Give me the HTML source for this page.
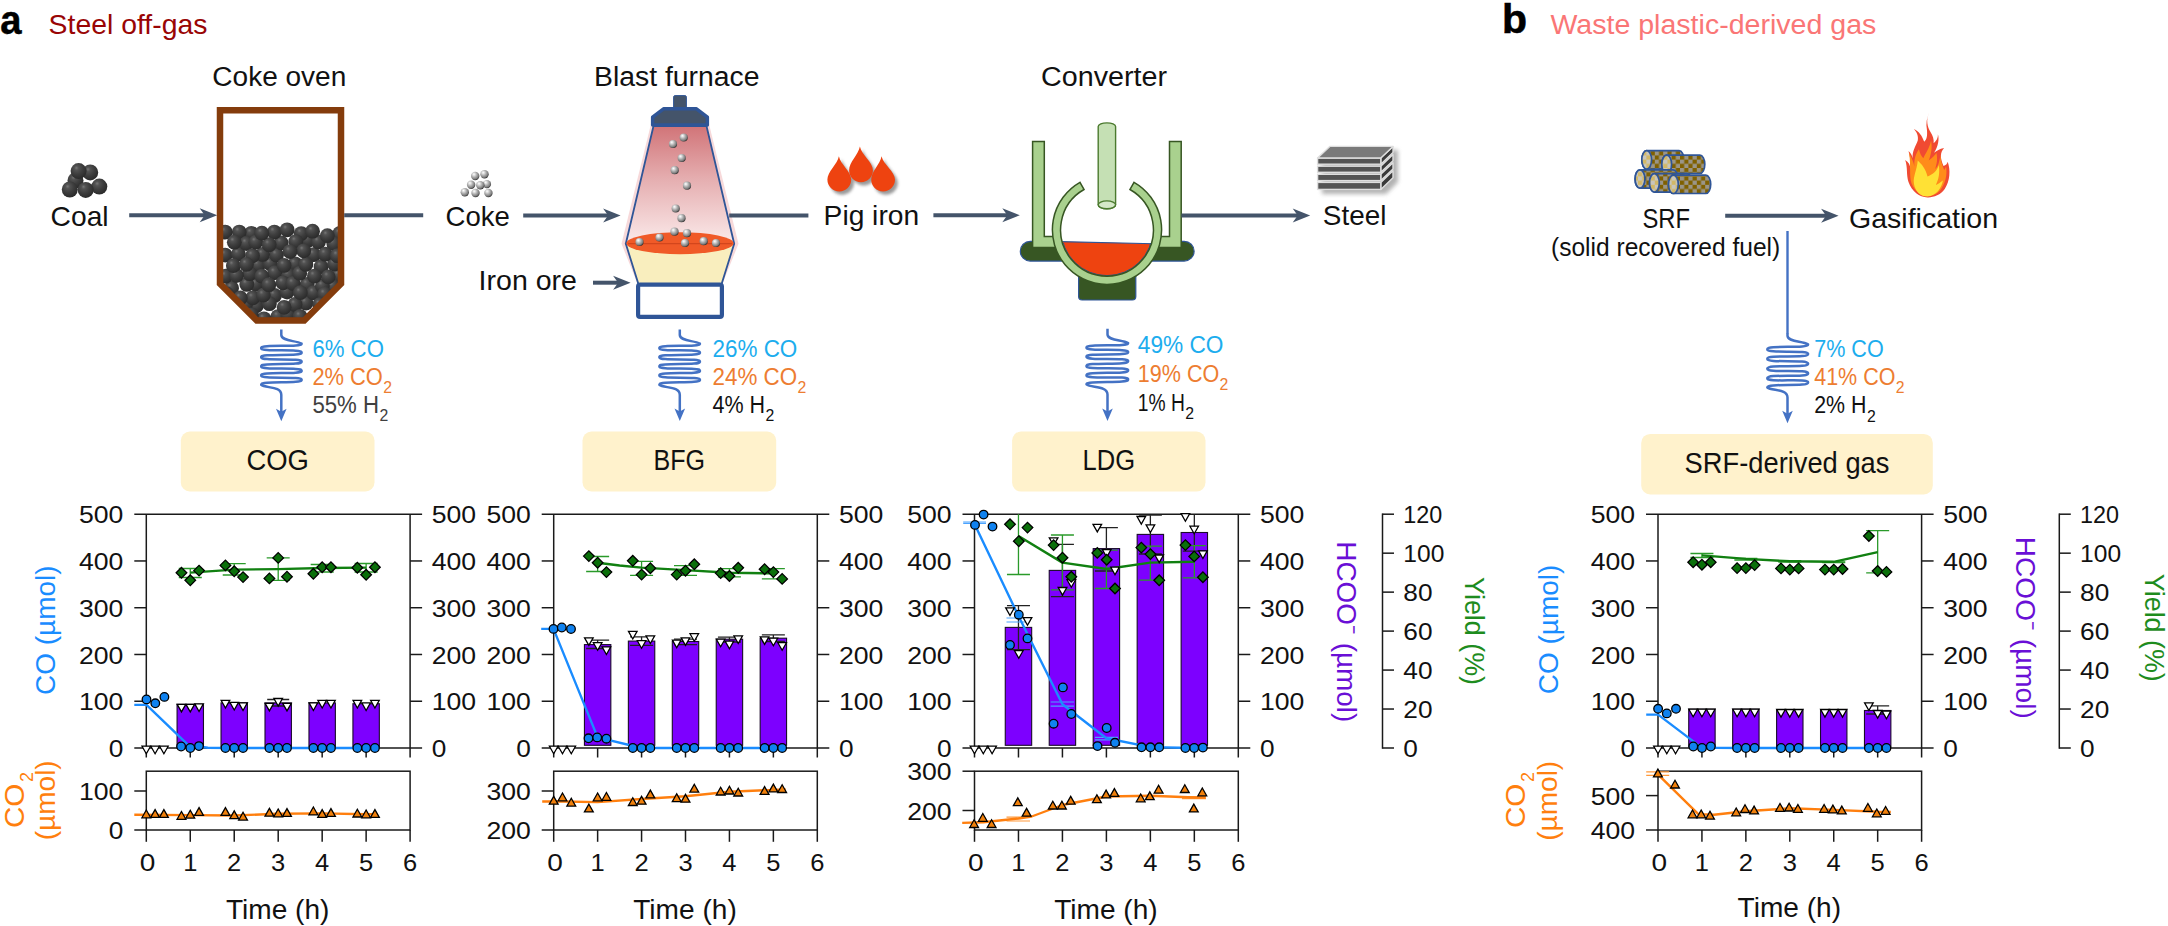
<!DOCTYPE html>
<html lang="en"><head><meta charset="utf-8"><title>Steel off-gas and waste plastic-derived gas</title>
<style>
html,body{margin:0;padding:0;background:#fff}
body{width:2168px;height:926px;overflow:hidden}
svg{display:block;font-family:'Liberation Sans', sans-serif}
</style></head><body>
<svg width="2168" height="926" viewBox="0 0 2168 926">
<defs>
<radialGradient id="gDark" cx="0.40" cy="0.36" r="0.62" fx="0.36" fy="0.30">
<stop offset="0" stop-color="#767676"/><stop offset="0.22" stop-color="#525252"/><stop offset="0.6" stop-color="#3d3d3d"/><stop offset="1" stop-color="#2c2c2c"/></radialGradient>
<radialGradient id="gLight" cx="0.40" cy="0.36" r="0.66" fx="0.34" fy="0.28">
<stop offset="0" stop-color="#ffffff"/><stop offset="0.2" stop-color="#e2e2e2"/><stop offset="0.5" stop-color="#adadad"/><stop offset="0.8" stop-color="#7c7c7c"/><stop offset="1" stop-color="#2e2e2e"/></radialGradient>
<linearGradient id="gFurn" x1="0" y1="0" x2="0" y2="1">
<stop offset="0" stop-color="#d17478"/><stop offset="0.45" stop-color="#e5aeb0"/><stop offset="1" stop-color="#fbeaea"/></linearGradient>
<filter id="fSh" x="-30%" y="-30%" width="170%" height="170%"><feGaussianBlur stdDeviation="1.6"/></filter>
<filter id="fSh2" x="-30%" y="-30%" width="170%" height="170%"><feGaussianBlur stdDeviation="2.2"/></filter>
<pattern id="pLog" width="8.4" height="8.4" patternUnits="userSpaceOnUse"><rect width="8.4" height="8.4" fill="#7f6000"/><rect width="4.2" height="4.2" fill="#9a9588"/><rect x="4.2" y="4.2" width="4.2" height="4.2" fill="#9a9588"/></pattern>
<pattern id="pLogE" width="8.4" height="8.4" patternUnits="userSpaceOnUse"><rect width="8.4" height="8.4" fill="#d2b866"/><rect width="4.2" height="4.2" fill="#c9c6bd"/><rect x="4.2" y="4.2" width="4.2" height="4.2" fill="#c9c6bd"/></pattern>
<clipPath id="cp1"><rect x="132.3" y="508.7" width="291.8" height="327.8"/></clipPath>
<clipPath id="cp2"><rect x="539.7" y="508.7" width="291.6" height="327.8"/></clipPath>
<clipPath id="cp3"><rect x="960.5" y="508.7" width="291.8" height="327.8"/></clipPath>
<clipPath id="cp4"><rect x="1644" y="508.7" width="291.6" height="327.8"/></clipPath>
<clipPath id="cpOven"><path d="M223 110H338V283.5L303.5 318H257.5L223 283.5Z"/></clipPath>
<clipPath id="cpMelt"><circle cx="1107" cy="229.8" r="46.2"/></clipPath>
<clipPath id="cpMeltB"><rect x="1050" y="243" width="115" height="50"/></clipPath>
</defs>
<rect width="2168" height="926" fill="#fff"/>
<rect x="177.07" y="704.3" width="26.4" height="42.7" fill="#7d00ff" stroke="#1a0a2a" stroke-width="1.1"/>
<rect x="221.03" y="702.9" width="26.4" height="44.1" fill="#7d00ff" stroke="#1a0a2a" stroke-width="1.1"/>
<rect x="265" y="702.9" width="26.4" height="44.1" fill="#7d00ff" stroke="#1a0a2a" stroke-width="1.1"/>
<rect x="308.97" y="702.9" width="26.4" height="44.1" fill="#7d00ff" stroke="#1a0a2a" stroke-width="1.1"/>
<rect x="352.93" y="703.7" width="26.4" height="43.3" fill="#7d00ff" stroke="#1a0a2a" stroke-width="1.1"/>
<line x1="134.3" y1="514.2" x2="422.1" y2="514.2" stroke="#1a1a1a" stroke-width="1.5"/>
<line x1="134.3" y1="748" x2="422.1" y2="748" stroke="#1a1a1a" stroke-width="1.5"/>
<line x1="146.3" y1="514.2" x2="146.3" y2="748" stroke="#1a1a1a" stroke-width="1.5"/>
<line x1="410.1" y1="514.2" x2="410.1" y2="757.5" stroke="#1a1a1a" stroke-width="1.5"/>
<line x1="134.3" y1="701.24" x2="146.3" y2="701.24" stroke="#1a1a1a" stroke-width="1.5"/>
<line x1="410.1" y1="701.24" x2="422.1" y2="701.24" stroke="#1a1a1a" stroke-width="1.5"/>
<line x1="134.3" y1="654.48" x2="146.3" y2="654.48" stroke="#1a1a1a" stroke-width="1.5"/>
<line x1="410.1" y1="654.48" x2="422.1" y2="654.48" stroke="#1a1a1a" stroke-width="1.5"/>
<line x1="134.3" y1="607.72" x2="146.3" y2="607.72" stroke="#1a1a1a" stroke-width="1.5"/>
<line x1="410.1" y1="607.72" x2="422.1" y2="607.72" stroke="#1a1a1a" stroke-width="1.5"/>
<line x1="134.3" y1="560.96" x2="146.3" y2="560.96" stroke="#1a1a1a" stroke-width="1.5"/>
<line x1="410.1" y1="560.96" x2="422.1" y2="560.96" stroke="#1a1a1a" stroke-width="1.5"/>
<line x1="146.3" y1="748" x2="146.3" y2="757.5" stroke="#1a1a1a" stroke-width="1.5"/>
<line x1="190.27" y1="748" x2="190.27" y2="757.5" stroke="#1a1a1a" stroke-width="1.5"/>
<line x1="234.23" y1="748" x2="234.23" y2="757.5" stroke="#1a1a1a" stroke-width="1.5"/>
<line x1="278.2" y1="748" x2="278.2" y2="757.5" stroke="#1a1a1a" stroke-width="1.5"/>
<line x1="322.17" y1="748" x2="322.17" y2="757.5" stroke="#1a1a1a" stroke-width="1.5"/>
<line x1="366.13" y1="748" x2="366.13" y2="757.5" stroke="#1a1a1a" stroke-width="1.5"/>
<text x="123.4" y="757.2" font-size="24" fill="#111" text-anchor="end" textLength="14.6" lengthAdjust="spacingAndGlyphs">0</text>
<text x="431.7" y="757.2" font-size="24" fill="#111" textLength="14.6" lengthAdjust="spacingAndGlyphs">0</text>
<text x="123.4" y="710.44" font-size="24" fill="#111" text-anchor="end" textLength="44.4" lengthAdjust="spacingAndGlyphs">100</text>
<text x="431.7" y="710.44" font-size="24" fill="#111" textLength="44.4" lengthAdjust="spacingAndGlyphs">100</text>
<text x="123.4" y="663.68" font-size="24" fill="#111" text-anchor="end" textLength="44.4" lengthAdjust="spacingAndGlyphs">200</text>
<text x="431.7" y="663.68" font-size="24" fill="#111" textLength="44.4" lengthAdjust="spacingAndGlyphs">200</text>
<text x="123.4" y="616.92" font-size="24" fill="#111" text-anchor="end" textLength="44.4" lengthAdjust="spacingAndGlyphs">300</text>
<text x="431.7" y="616.92" font-size="24" fill="#111" textLength="44.4" lengthAdjust="spacingAndGlyphs">300</text>
<text x="123.4" y="570.16" font-size="24" fill="#111" text-anchor="end" textLength="44.4" lengthAdjust="spacingAndGlyphs">400</text>
<text x="431.7" y="570.16" font-size="24" fill="#111" textLength="44.4" lengthAdjust="spacingAndGlyphs">400</text>
<text x="123.4" y="523.4" font-size="24" fill="#111" text-anchor="end" textLength="44.4" lengthAdjust="spacingAndGlyphs">500</text>
<text x="431.7" y="523.4" font-size="24" fill="#111" textLength="44.4" lengthAdjust="spacingAndGlyphs">500</text>
<rect x="146.3" y="771.2" width="263.8" height="58.8" fill="none" stroke="#1a1a1a" stroke-width="1.5"/>
<line x1="146.3" y1="830" x2="146.3" y2="841.8" stroke="#1a1a1a" stroke-width="1.5"/>
<text x="147.6" y="871.4" font-size="24" fill="#111" text-anchor="middle" textLength="15.6" lengthAdjust="spacingAndGlyphs">0</text>
<line x1="190.27" y1="830" x2="190.27" y2="841.8" stroke="#1a1a1a" stroke-width="1.5"/>
<text x="190.27" y="871.4" font-size="24" fill="#111" text-anchor="middle" textLength="14.2" lengthAdjust="spacingAndGlyphs">1</text>
<line x1="234.23" y1="830" x2="234.23" y2="841.8" stroke="#1a1a1a" stroke-width="1.5"/>
<text x="234.23" y="871.4" font-size="24" fill="#111" text-anchor="middle" textLength="14.2" lengthAdjust="spacingAndGlyphs">2</text>
<line x1="278.2" y1="830" x2="278.2" y2="841.8" stroke="#1a1a1a" stroke-width="1.5"/>
<text x="278.2" y="871.4" font-size="24" fill="#111" text-anchor="middle" textLength="14.2" lengthAdjust="spacingAndGlyphs">3</text>
<line x1="322.17" y1="830" x2="322.17" y2="841.8" stroke="#1a1a1a" stroke-width="1.5"/>
<text x="322.17" y="871.4" font-size="24" fill="#111" text-anchor="middle" textLength="14.2" lengthAdjust="spacingAndGlyphs">4</text>
<line x1="366.13" y1="830" x2="366.13" y2="841.8" stroke="#1a1a1a" stroke-width="1.5"/>
<text x="366.13" y="871.4" font-size="24" fill="#111" text-anchor="middle" textLength="14.2" lengthAdjust="spacingAndGlyphs">5</text>
<line x1="410.1" y1="830" x2="410.1" y2="841.8" stroke="#1a1a1a" stroke-width="1.5"/>
<text x="410.1" y="871.4" font-size="24" fill="#111" text-anchor="middle" textLength="14.2" lengthAdjust="spacingAndGlyphs">6</text>
<line x1="134.3" y1="791" x2="146.3" y2="791" stroke="#1a1a1a" stroke-width="1.5"/>
<text x="123.4" y="800.2" font-size="24" fill="#111" text-anchor="end" textLength="44.4" lengthAdjust="spacingAndGlyphs">100</text>
<line x1="134.3" y1="830" x2="146.3" y2="830" stroke="#1a1a1a" stroke-width="1.5"/>
<text x="123.4" y="839.2" font-size="24" fill="#111" text-anchor="end" textLength="14.6" lengthAdjust="spacingAndGlyphs">0</text>
<text x="277.7" y="918.5" font-size="28" fill="#111" text-anchor="middle" textLength="103.5" lengthAdjust="spacingAndGlyphs">Time (h)</text>
<g clip-path="url(#cp1)">
<line x1="278.2" y1="699.5" x2="278.2" y2="706" stroke="#222" stroke-width="1.3"/>
<line x1="267.2" y1="699.5" x2="289.2" y2="699.5" stroke="#222" stroke-width="1.3"/>
<line x1="267.2" y1="706" x2="289.2" y2="706" stroke="#222" stroke-width="1.3"/>
<line x1="190.27" y1="568.5" x2="190.27" y2="577.5" stroke="#2a9a2a" stroke-width="1.3"/>
<line x1="178.77" y1="568.5" x2="201.77" y2="568.5" stroke="#2a9a2a" stroke-width="1.3"/>
<line x1="178.77" y1="577.5" x2="201.77" y2="577.5" stroke="#2a9a2a" stroke-width="1.3"/>
<line x1="234.23" y1="563.7" x2="234.23" y2="575" stroke="#2a9a2a" stroke-width="1.3"/>
<line x1="222.73" y1="563.7" x2="245.73" y2="563.7" stroke="#2a9a2a" stroke-width="1.3"/>
<line x1="222.73" y1="575" x2="245.73" y2="575" stroke="#2a9a2a" stroke-width="1.3"/>
<line x1="278.2" y1="557.9" x2="278.2" y2="580.3" stroke="#2a9a2a" stroke-width="1.3"/>
<line x1="266.7" y1="557.9" x2="289.7" y2="557.9" stroke="#2a9a2a" stroke-width="1.3"/>
<line x1="266.7" y1="580.3" x2="289.7" y2="580.3" stroke="#2a9a2a" stroke-width="1.3"/>
<line x1="322.17" y1="564.5" x2="322.17" y2="572" stroke="#2a9a2a" stroke-width="1.3"/>
<line x1="310.67" y1="564.5" x2="333.67" y2="564.5" stroke="#2a9a2a" stroke-width="1.3"/>
<line x1="310.67" y1="572" x2="333.67" y2="572" stroke="#2a9a2a" stroke-width="1.3"/>
<line x1="366.13" y1="563.5" x2="366.13" y2="572" stroke="#2a9a2a" stroke-width="1.3"/>
<line x1="354.63" y1="563.5" x2="377.63" y2="563.5" stroke="#2a9a2a" stroke-width="1.3"/>
<line x1="354.63" y1="572" x2="377.63" y2="572" stroke="#2a9a2a" stroke-width="1.3"/>
<polyline points="134.3,704.9 146.5,704.9 188.3,745.1 207.8,747.7 234.23,748 366.13,748" fill="none" stroke="#1a8cff" stroke-width="2.4" stroke-linejoin="round"/>
<polyline points="190.27,572.6 234.23,569.6 278.2,569.1 322.17,568 366.13,567.6" fill="none" stroke="#118011" stroke-width="2.4" stroke-linejoin="round"/>
<polyline points="134.3,814.7 190.27,815.1 234.23,815.5 278.2,813.8 322.17,813.4 366.13,814.2 377.12,814.2" fill="none" stroke="#ff7f0e" stroke-width="2.4" stroke-linejoin="round"/>
<path d="M177.17 704.3L185.77 704.3L181.47 711.9Z" fill="#fff" stroke="#000" stroke-width="1.3" stroke-linejoin="miter"/>
<path d="M185.97 704.3L194.57 704.3L190.27 711.9Z" fill="#fff" stroke="#000" stroke-width="1.3" stroke-linejoin="miter"/>
<path d="M194.76 703.9L203.36 703.9L199.06 711.5Z" fill="#fff" stroke="#000" stroke-width="1.3" stroke-linejoin="miter"/>
<path d="M221.14 700.4L229.74 700.4L225.44 708Z" fill="#fff" stroke="#000" stroke-width="1.3" stroke-linejoin="miter"/>
<path d="M229.93 702.4L238.53 702.4L234.23 710Z" fill="#fff" stroke="#000" stroke-width="1.3" stroke-linejoin="miter"/>
<path d="M238.73 702.9L247.33 702.9L243.03 710.5Z" fill="#fff" stroke="#000" stroke-width="1.3" stroke-linejoin="miter"/>
<path d="M265.11 703.3L273.71 703.3L269.41 710.9Z" fill="#fff" stroke="#000" stroke-width="1.3" stroke-linejoin="miter"/>
<path d="M273.9 698.5L282.5 698.5L278.2 706.1Z" fill="#fff" stroke="#000" stroke-width="1.3" stroke-linejoin="miter"/>
<path d="M282.69 703.3L291.29 703.3L286.99 710.9Z" fill="#fff" stroke="#000" stroke-width="1.3" stroke-linejoin="miter"/>
<path d="M309.07 702.9L317.67 702.9L313.37 710.5Z" fill="#fff" stroke="#000" stroke-width="1.3" stroke-linejoin="miter"/>
<path d="M317.87 700.4L326.47 700.4L322.17 708Z" fill="#fff" stroke="#000" stroke-width="1.3" stroke-linejoin="miter"/>
<path d="M326.66 700.4L335.26 700.4L330.96 708Z" fill="#fff" stroke="#000" stroke-width="1.3" stroke-linejoin="miter"/>
<path d="M353.04 700.4L361.64 700.4L357.34 708Z" fill="#fff" stroke="#000" stroke-width="1.3" stroke-linejoin="miter"/>
<path d="M361.83 702.9L370.43 702.9L366.13 710.5Z" fill="#fff" stroke="#000" stroke-width="1.3" stroke-linejoin="miter"/>
<path d="M370.63 700.4L379.23 700.4L374.93 708Z" fill="#fff" stroke="#000" stroke-width="1.3" stroke-linejoin="miter"/>
<path d="M142 746.2L150.6 746.2L146.3 753.8Z" fill="#fff" stroke="#000" stroke-width="1.3" stroke-linejoin="miter"/>
<path d="M150.79 746.2L159.39 746.2L155.09 753.8Z" fill="#fff" stroke="#000" stroke-width="1.3" stroke-linejoin="miter"/>
<path d="M159.59 746.2L168.19 746.2L163.89 753.8Z" fill="#fff" stroke="#000" stroke-width="1.3" stroke-linejoin="miter"/>
<circle cx="146.5" cy="699.4" r="4.3" fill="#0f82f0" stroke="#000" stroke-width="1.3"/>
<circle cx="155.3" cy="703.3" r="4.3" fill="#0f82f0" stroke="#000" stroke-width="1.3"/>
<circle cx="164.4" cy="696.9" r="4.3" fill="#0f82f0" stroke="#000" stroke-width="1.3"/>
<circle cx="181.1" cy="746.5" r="4.3" fill="#0f82f0" stroke="#000" stroke-width="1.3"/>
<circle cx="190.3" cy="748" r="4.3" fill="#0f82f0" stroke="#000" stroke-width="1.3"/>
<circle cx="199" cy="746.1" r="4.3" fill="#0f82f0" stroke="#000" stroke-width="1.3"/>
<circle cx="225.44" cy="748" r="4.3" fill="#0f82f0" stroke="#000" stroke-width="1.3"/>
<circle cx="234.23" cy="748" r="4.3" fill="#0f82f0" stroke="#000" stroke-width="1.3"/>
<circle cx="243.03" cy="748" r="4.3" fill="#0f82f0" stroke="#000" stroke-width="1.3"/>
<circle cx="269.41" cy="748" r="4.3" fill="#0f82f0" stroke="#000" stroke-width="1.3"/>
<circle cx="278.2" cy="748" r="4.3" fill="#0f82f0" stroke="#000" stroke-width="1.3"/>
<circle cx="286.99" cy="748" r="4.3" fill="#0f82f0" stroke="#000" stroke-width="1.3"/>
<circle cx="313.37" cy="748" r="4.3" fill="#0f82f0" stroke="#000" stroke-width="1.3"/>
<circle cx="322.17" cy="748" r="4.3" fill="#0f82f0" stroke="#000" stroke-width="1.3"/>
<circle cx="330.96" cy="748" r="4.3" fill="#0f82f0" stroke="#000" stroke-width="1.3"/>
<circle cx="357.34" cy="748" r="4.3" fill="#0f82f0" stroke="#000" stroke-width="1.3"/>
<circle cx="366.13" cy="748" r="4.3" fill="#0f82f0" stroke="#000" stroke-width="1.3"/>
<circle cx="374.93" cy="748" r="4.3" fill="#0f82f0" stroke="#000" stroke-width="1.3"/>
<path d="M176.17 572.8L181.47 567.5L186.77 572.8L181.47 578.1Z" fill="#0a6f0a" stroke="#000" stroke-width="1.3"/>
<path d="M184.97 580.3L190.27 575L195.57 580.3L190.27 585.6Z" fill="#0a6f0a" stroke="#000" stroke-width="1.3"/>
<path d="M193.76 570.6L199.06 565.3L204.36 570.6L199.06 575.9Z" fill="#0a6f0a" stroke="#000" stroke-width="1.3"/>
<path d="M220.14 565.4L225.44 560.1L230.74 565.4L225.44 570.7Z" fill="#0a6f0a" stroke="#000" stroke-width="1.3"/>
<path d="M228.93 571.3L234.23 566L239.53 571.3L234.23 576.6Z" fill="#0a6f0a" stroke="#000" stroke-width="1.3"/>
<path d="M237.73 577.1L243.03 571.8L248.33 577.1L243.03 582.4Z" fill="#0a6f0a" stroke="#000" stroke-width="1.3"/>
<path d="M264.11 578.4L269.41 573.1L274.71 578.4L269.41 583.7Z" fill="#0a6f0a" stroke="#000" stroke-width="1.3"/>
<path d="M272.9 557.9L278.2 552.6L283.5 557.9L278.2 563.2Z" fill="#0a6f0a" stroke="#000" stroke-width="1.3"/>
<path d="M281.69 576.7L286.99 571.4L292.29 576.7L286.99 582Z" fill="#0a6f0a" stroke="#000" stroke-width="1.3"/>
<path d="M308.07 573.8L313.37 568.5L318.67 573.8L313.37 579.1Z" fill="#0a6f0a" stroke="#000" stroke-width="1.3"/>
<path d="M316.87 567.2L322.17 561.9L327.47 567.2L322.17 572.5Z" fill="#0a6f0a" stroke="#000" stroke-width="1.3"/>
<path d="M325.66 567.2L330.96 561.9L336.26 567.2L330.96 572.5Z" fill="#0a6f0a" stroke="#000" stroke-width="1.3"/>
<path d="M352.04 567.7L357.34 562.4L362.64 567.7L357.34 573Z" fill="#0a6f0a" stroke="#000" stroke-width="1.3"/>
<path d="M360.83 574.8L366.13 569.5L371.43 574.8L366.13 580.1Z" fill="#0a6f0a" stroke="#000" stroke-width="1.3"/>
<path d="M369.63 567.2L374.93 561.9L380.23 567.2L374.93 572.5Z" fill="#0a6f0a" stroke="#000" stroke-width="1.3"/>
<path d="M141.9 817.8L150.7 817.8L146.3 810Z" fill="#f0800c" stroke="#000" stroke-width="1.3"/>
<path d="M150.69 817.4L159.49 817.4L155.09 809.6Z" fill="#f0800c" stroke="#000" stroke-width="1.3"/>
<path d="M159.49 817.4L168.29 817.4L163.89 809.6Z" fill="#f0800c" stroke="#000" stroke-width="1.3"/>
<path d="M177.07 819.3L185.87 819.3L181.47 811.5Z" fill="#f0800c" stroke="#000" stroke-width="1.3"/>
<path d="M185.87 818.1L194.67 818.1L190.27 810.3Z" fill="#f0800c" stroke="#000" stroke-width="1.3"/>
<path d="M194.66 815.4L203.46 815.4L199.06 807.6Z" fill="#f0800c" stroke="#000" stroke-width="1.3"/>
<path d="M221.04 815.4L229.84 815.4L225.44 807.6Z" fill="#f0800c" stroke="#000" stroke-width="1.3"/>
<path d="M229.83 818.7L238.63 818.7L234.23 810.9Z" fill="#f0800c" stroke="#000" stroke-width="1.3"/>
<path d="M238.63 820.1L247.43 820.1L243.03 812.3Z" fill="#f0800c" stroke="#000" stroke-width="1.3"/>
<path d="M265.01 816.2L273.81 816.2L269.41 808.4Z" fill="#f0800c" stroke="#000" stroke-width="1.3"/>
<path d="M273.8 816.8L282.6 816.8L278.2 809Z" fill="#f0800c" stroke="#000" stroke-width="1.3"/>
<path d="M282.59 816.4L291.39 816.4L286.99 808.6Z" fill="#f0800c" stroke="#000" stroke-width="1.3"/>
<path d="M308.97 814.8L317.77 814.8L313.37 807Z" fill="#f0800c" stroke="#000" stroke-width="1.3"/>
<path d="M317.77 817.4L326.57 817.4L322.17 809.6Z" fill="#f0800c" stroke="#000" stroke-width="1.3"/>
<path d="M326.56 816.4L335.36 816.4L330.96 808.6Z" fill="#f0800c" stroke="#000" stroke-width="1.3"/>
<path d="M352.94 817L361.74 817L357.34 809.2Z" fill="#f0800c" stroke="#000" stroke-width="1.3"/>
<path d="M361.73 817.8L370.53 817.8L366.13 810Z" fill="#f0800c" stroke="#000" stroke-width="1.3"/>
<path d="M370.53 817.4L379.33 817.4L374.93 809.6Z" fill="#f0800c" stroke="#000" stroke-width="1.3"/>
</g>
<rect x="584.43" y="644.6" width="26.4" height="100.7" fill="#7d00ff" stroke="#1a0a2a" stroke-width="1.1"/>
<rect x="628.37" y="641.1" width="26.4" height="104.2" fill="#7d00ff" stroke="#1a0a2a" stroke-width="1.1"/>
<rect x="672.3" y="641.5" width="26.4" height="103.8" fill="#7d00ff" stroke="#1a0a2a" stroke-width="1.1"/>
<rect x="716.23" y="639.2" width="26.4" height="106.1" fill="#7d00ff" stroke="#1a0a2a" stroke-width="1.1"/>
<rect x="760.17" y="638.2" width="26.4" height="107.1" fill="#7d00ff" stroke="#1a0a2a" stroke-width="1.1"/>
<line x1="541.7" y1="514.2" x2="829.3" y2="514.2" stroke="#1a1a1a" stroke-width="1.5"/>
<line x1="541.7" y1="748" x2="829.3" y2="748" stroke="#1a1a1a" stroke-width="1.5"/>
<line x1="553.7" y1="514.2" x2="553.7" y2="748" stroke="#1a1a1a" stroke-width="1.5"/>
<line x1="817.3" y1="514.2" x2="817.3" y2="757.5" stroke="#1a1a1a" stroke-width="1.5"/>
<line x1="541.7" y1="701.24" x2="553.7" y2="701.24" stroke="#1a1a1a" stroke-width="1.5"/>
<line x1="817.3" y1="701.24" x2="829.3" y2="701.24" stroke="#1a1a1a" stroke-width="1.5"/>
<line x1="541.7" y1="654.48" x2="553.7" y2="654.48" stroke="#1a1a1a" stroke-width="1.5"/>
<line x1="817.3" y1="654.48" x2="829.3" y2="654.48" stroke="#1a1a1a" stroke-width="1.5"/>
<line x1="541.7" y1="607.72" x2="553.7" y2="607.72" stroke="#1a1a1a" stroke-width="1.5"/>
<line x1="817.3" y1="607.72" x2="829.3" y2="607.72" stroke="#1a1a1a" stroke-width="1.5"/>
<line x1="541.7" y1="560.96" x2="553.7" y2="560.96" stroke="#1a1a1a" stroke-width="1.5"/>
<line x1="817.3" y1="560.96" x2="829.3" y2="560.96" stroke="#1a1a1a" stroke-width="1.5"/>
<line x1="553.7" y1="748" x2="553.7" y2="757.5" stroke="#1a1a1a" stroke-width="1.5"/>
<line x1="597.63" y1="748" x2="597.63" y2="757.5" stroke="#1a1a1a" stroke-width="1.5"/>
<line x1="641.57" y1="748" x2="641.57" y2="757.5" stroke="#1a1a1a" stroke-width="1.5"/>
<line x1="685.5" y1="748" x2="685.5" y2="757.5" stroke="#1a1a1a" stroke-width="1.5"/>
<line x1="729.43" y1="748" x2="729.43" y2="757.5" stroke="#1a1a1a" stroke-width="1.5"/>
<line x1="773.37" y1="748" x2="773.37" y2="757.5" stroke="#1a1a1a" stroke-width="1.5"/>
<text x="530.8" y="757.2" font-size="24" fill="#111" text-anchor="end" textLength="14.6" lengthAdjust="spacingAndGlyphs">0</text>
<text x="838.9" y="757.2" font-size="24" fill="#111" textLength="14.6" lengthAdjust="spacingAndGlyphs">0</text>
<text x="530.8" y="710.44" font-size="24" fill="#111" text-anchor="end" textLength="44.4" lengthAdjust="spacingAndGlyphs">100</text>
<text x="838.9" y="710.44" font-size="24" fill="#111" textLength="44.4" lengthAdjust="spacingAndGlyphs">100</text>
<text x="530.8" y="663.68" font-size="24" fill="#111" text-anchor="end" textLength="44.4" lengthAdjust="spacingAndGlyphs">200</text>
<text x="838.9" y="663.68" font-size="24" fill="#111" textLength="44.4" lengthAdjust="spacingAndGlyphs">200</text>
<text x="530.8" y="616.92" font-size="24" fill="#111" text-anchor="end" textLength="44.4" lengthAdjust="spacingAndGlyphs">300</text>
<text x="838.9" y="616.92" font-size="24" fill="#111" textLength="44.4" lengthAdjust="spacingAndGlyphs">300</text>
<text x="530.8" y="570.16" font-size="24" fill="#111" text-anchor="end" textLength="44.4" lengthAdjust="spacingAndGlyphs">400</text>
<text x="838.9" y="570.16" font-size="24" fill="#111" textLength="44.4" lengthAdjust="spacingAndGlyphs">400</text>
<text x="530.8" y="523.4" font-size="24" fill="#111" text-anchor="end" textLength="44.4" lengthAdjust="spacingAndGlyphs">500</text>
<text x="838.9" y="523.4" font-size="24" fill="#111" textLength="44.4" lengthAdjust="spacingAndGlyphs">500</text>
<rect x="553.7" y="771.2" width="263.6" height="58.8" fill="none" stroke="#1a1a1a" stroke-width="1.5"/>
<line x1="553.7" y1="830" x2="553.7" y2="841.8" stroke="#1a1a1a" stroke-width="1.5"/>
<text x="555" y="871.4" font-size="24" fill="#111" text-anchor="middle" textLength="15.6" lengthAdjust="spacingAndGlyphs">0</text>
<line x1="597.63" y1="830" x2="597.63" y2="841.8" stroke="#1a1a1a" stroke-width="1.5"/>
<text x="597.63" y="871.4" font-size="24" fill="#111" text-anchor="middle" textLength="14.2" lengthAdjust="spacingAndGlyphs">1</text>
<line x1="641.57" y1="830" x2="641.57" y2="841.8" stroke="#1a1a1a" stroke-width="1.5"/>
<text x="641.57" y="871.4" font-size="24" fill="#111" text-anchor="middle" textLength="14.2" lengthAdjust="spacingAndGlyphs">2</text>
<line x1="685.5" y1="830" x2="685.5" y2="841.8" stroke="#1a1a1a" stroke-width="1.5"/>
<text x="685.5" y="871.4" font-size="24" fill="#111" text-anchor="middle" textLength="14.2" lengthAdjust="spacingAndGlyphs">3</text>
<line x1="729.43" y1="830" x2="729.43" y2="841.8" stroke="#1a1a1a" stroke-width="1.5"/>
<text x="729.43" y="871.4" font-size="24" fill="#111" text-anchor="middle" textLength="14.2" lengthAdjust="spacingAndGlyphs">4</text>
<line x1="773.37" y1="830" x2="773.37" y2="841.8" stroke="#1a1a1a" stroke-width="1.5"/>
<text x="773.37" y="871.4" font-size="24" fill="#111" text-anchor="middle" textLength="14.2" lengthAdjust="spacingAndGlyphs">5</text>
<line x1="817.3" y1="830" x2="817.3" y2="841.8" stroke="#1a1a1a" stroke-width="1.5"/>
<text x="817.3" y="871.4" font-size="24" fill="#111" text-anchor="middle" textLength="14.2" lengthAdjust="spacingAndGlyphs">6</text>
<line x1="541.7" y1="791" x2="553.7" y2="791" stroke="#1a1a1a" stroke-width="1.5"/>
<text x="530.8" y="800.2" font-size="24" fill="#111" text-anchor="end" textLength="44.4" lengthAdjust="spacingAndGlyphs">300</text>
<line x1="541.7" y1="830" x2="553.7" y2="830" stroke="#1a1a1a" stroke-width="1.5"/>
<text x="530.8" y="839.2" font-size="24" fill="#111" text-anchor="end" textLength="44.4" lengthAdjust="spacingAndGlyphs">200</text>
<text x="685" y="918.5" font-size="28" fill="#111" text-anchor="middle" textLength="103.5" lengthAdjust="spacingAndGlyphs">Time (h)</text>
<g clip-path="url(#cp2)">
<line x1="597.63" y1="640.1" x2="597.63" y2="648.5" stroke="#222" stroke-width="1.3"/>
<line x1="586.13" y1="640.1" x2="609.13" y2="640.1" stroke="#222" stroke-width="1.3"/>
<line x1="586.13" y1="648.5" x2="609.13" y2="648.5" stroke="#222" stroke-width="1.3"/>
<line x1="641.57" y1="636.8" x2="641.57" y2="645.4" stroke="#222" stroke-width="1.3"/>
<line x1="630.07" y1="636.8" x2="653.07" y2="636.8" stroke="#222" stroke-width="1.3"/>
<line x1="630.07" y1="645.4" x2="653.07" y2="645.4" stroke="#222" stroke-width="1.3"/>
<line x1="685.5" y1="639.2" x2="685.5" y2="644.6" stroke="#222" stroke-width="1.3"/>
<line x1="674" y1="639.2" x2="697" y2="639.2" stroke="#222" stroke-width="1.3"/>
<line x1="674" y1="644.6" x2="697" y2="644.6" stroke="#222" stroke-width="1.3"/>
<line x1="729.43" y1="637.2" x2="729.43" y2="642" stroke="#222" stroke-width="1.3"/>
<line x1="717.93" y1="637.2" x2="740.93" y2="637.2" stroke="#222" stroke-width="1.3"/>
<line x1="717.93" y1="642" x2="740.93" y2="642" stroke="#222" stroke-width="1.3"/>
<line x1="773.37" y1="634.9" x2="773.37" y2="641.5" stroke="#222" stroke-width="1.3"/>
<line x1="761.87" y1="634.9" x2="784.87" y2="634.9" stroke="#222" stroke-width="1.3"/>
<line x1="761.87" y1="641.5" x2="784.87" y2="641.5" stroke="#222" stroke-width="1.3"/>
<line x1="597.63" y1="556.5" x2="597.63" y2="571.5" stroke="#2a9a2a" stroke-width="1.3"/>
<line x1="586.13" y1="556.5" x2="609.13" y2="556.5" stroke="#2a9a2a" stroke-width="1.3"/>
<line x1="586.13" y1="571.5" x2="609.13" y2="571.5" stroke="#2a9a2a" stroke-width="1.3"/>
<line x1="641.57" y1="561.4" x2="641.57" y2="575.4" stroke="#2a9a2a" stroke-width="1.3"/>
<line x1="630.07" y1="561.4" x2="653.07" y2="561.4" stroke="#2a9a2a" stroke-width="1.3"/>
<line x1="630.07" y1="575.4" x2="653.07" y2="575.4" stroke="#2a9a2a" stroke-width="1.3"/>
<line x1="685.5" y1="565.7" x2="685.5" y2="575.4" stroke="#2a9a2a" stroke-width="1.3"/>
<line x1="674" y1="565.7" x2="697" y2="565.7" stroke="#2a9a2a" stroke-width="1.3"/>
<line x1="674" y1="575.4" x2="697" y2="575.4" stroke="#2a9a2a" stroke-width="1.3"/>
<line x1="729.43" y1="568.6" x2="729.43" y2="576.9" stroke="#2a9a2a" stroke-width="1.3"/>
<line x1="717.93" y1="568.6" x2="740.93" y2="568.6" stroke="#2a9a2a" stroke-width="1.3"/>
<line x1="717.93" y1="576.9" x2="740.93" y2="576.9" stroke="#2a9a2a" stroke-width="1.3"/>
<line x1="773.37" y1="568.6" x2="773.37" y2="578.9" stroke="#2a9a2a" stroke-width="1.3"/>
<line x1="761.87" y1="568.6" x2="784.87" y2="568.6" stroke="#2a9a2a" stroke-width="1.3"/>
<line x1="761.87" y1="578.9" x2="784.87" y2="578.9" stroke="#2a9a2a" stroke-width="1.3"/>
<polyline points="541.2,628.9 553.5,628.9 597.63,737.4 641.57,748 773.37,748" fill="none" stroke="#1a8cff" stroke-width="2.4" stroke-linejoin="round"/>
<polyline points="597.63,562.7 619.6,565.5 641.57,567.6 685.5,570.1 729.43,572.7 773.37,573.4" fill="none" stroke="#118011" stroke-width="2.4" stroke-linejoin="round"/>
<polyline points="542.2,801.5 562.49,801.5 597.63,802.1 641.57,799 685.5,796.3 729.43,791.8 773.37,789.9 785.67,789.5" fill="none" stroke="#ff7f0e" stroke-width="2.4" stroke-linejoin="round"/>
<path d="M584.55 637.8L593.15 637.8L588.85 645.4Z" fill="#fff" stroke="#000" stroke-width="1.3" stroke-linejoin="miter"/>
<path d="M593.33 642.7L601.93 642.7L597.63 650.3Z" fill="#fff" stroke="#000" stroke-width="1.3" stroke-linejoin="miter"/>
<path d="M602.12 646.9L610.72 646.9L606.42 654.5Z" fill="#fff" stroke="#000" stroke-width="1.3" stroke-linejoin="miter"/>
<path d="M628.48 631.4L637.08 631.4L632.78 639Z" fill="#fff" stroke="#000" stroke-width="1.3" stroke-linejoin="miter"/>
<path d="M637.27 640.7L645.87 640.7L641.57 648.3Z" fill="#fff" stroke="#000" stroke-width="1.3" stroke-linejoin="miter"/>
<path d="M646.05 635.9L654.65 635.9L650.35 643.5Z" fill="#fff" stroke="#000" stroke-width="1.3" stroke-linejoin="miter"/>
<path d="M672.41 640.1L681.01 640.1L676.71 647.7Z" fill="#fff" stroke="#000" stroke-width="1.3" stroke-linejoin="miter"/>
<path d="M681.2 637.8L689.8 637.8L685.5 645.4Z" fill="#fff" stroke="#000" stroke-width="1.3" stroke-linejoin="miter"/>
<path d="M689.99 633.7L698.59 633.7L694.29 641.3Z" fill="#fff" stroke="#000" stroke-width="1.3" stroke-linejoin="miter"/>
<path d="M716.35 639.2L724.95 639.2L720.65 646.8Z" fill="#fff" stroke="#000" stroke-width="1.3" stroke-linejoin="miter"/>
<path d="M725.13 641.1L733.73 641.1L729.43 648.7Z" fill="#fff" stroke="#000" stroke-width="1.3" stroke-linejoin="miter"/>
<path d="M733.92 635.9L742.52 635.9L738.22 643.5Z" fill="#fff" stroke="#000" stroke-width="1.3" stroke-linejoin="miter"/>
<path d="M760.28 636.8L768.88 636.8L764.58 644.4Z" fill="#fff" stroke="#000" stroke-width="1.3" stroke-linejoin="miter"/>
<path d="M769.07 638.2L777.67 638.2L773.37 645.8Z" fill="#fff" stroke="#000" stroke-width="1.3" stroke-linejoin="miter"/>
<path d="M777.85 642.7L786.45 642.7L782.15 650.3Z" fill="#fff" stroke="#000" stroke-width="1.3" stroke-linejoin="miter"/>
<path d="M549.4 746.2L558 746.2L553.7 753.8Z" fill="#fff" stroke="#000" stroke-width="1.3" stroke-linejoin="miter"/>
<path d="M558.19 746.2L566.79 746.2L562.49 753.8Z" fill="#fff" stroke="#000" stroke-width="1.3" stroke-linejoin="miter"/>
<path d="M566.97 746.2L575.57 746.2L571.27 753.8Z" fill="#fff" stroke="#000" stroke-width="1.3" stroke-linejoin="miter"/>
<circle cx="553.5" cy="628.9" r="4.3" fill="#0f82f0" stroke="#000" stroke-width="1.3"/>
<circle cx="561.8" cy="627.5" r="4.3" fill="#0f82f0" stroke="#000" stroke-width="1.3"/>
<circle cx="571" cy="629" r="4.3" fill="#0f82f0" stroke="#000" stroke-width="1.3"/>
<circle cx="588.5" cy="738.3" r="4.3" fill="#0f82f0" stroke="#000" stroke-width="1.3"/>
<circle cx="597.2" cy="737.4" r="4.3" fill="#0f82f0" stroke="#000" stroke-width="1.3"/>
<circle cx="606.4" cy="738.7" r="4.3" fill="#0f82f0" stroke="#000" stroke-width="1.3"/>
<circle cx="632.78" cy="748" r="4.3" fill="#0f82f0" stroke="#000" stroke-width="1.3"/>
<circle cx="641.57" cy="748" r="4.3" fill="#0f82f0" stroke="#000" stroke-width="1.3"/>
<circle cx="650.35" cy="748" r="4.3" fill="#0f82f0" stroke="#000" stroke-width="1.3"/>
<circle cx="676.71" cy="748" r="4.3" fill="#0f82f0" stroke="#000" stroke-width="1.3"/>
<circle cx="685.5" cy="748" r="4.3" fill="#0f82f0" stroke="#000" stroke-width="1.3"/>
<circle cx="694.29" cy="748" r="4.3" fill="#0f82f0" stroke="#000" stroke-width="1.3"/>
<circle cx="720.65" cy="748" r="4.3" fill="#0f82f0" stroke="#000" stroke-width="1.3"/>
<circle cx="729.43" cy="748" r="4.3" fill="#0f82f0" stroke="#000" stroke-width="1.3"/>
<circle cx="738.22" cy="748" r="4.3" fill="#0f82f0" stroke="#000" stroke-width="1.3"/>
<circle cx="764.58" cy="748" r="4.3" fill="#0f82f0" stroke="#000" stroke-width="1.3"/>
<circle cx="773.37" cy="748" r="4.3" fill="#0f82f0" stroke="#000" stroke-width="1.3"/>
<circle cx="782.15" cy="748" r="4.3" fill="#0f82f0" stroke="#000" stroke-width="1.3"/>
<path d="M583.55 556.1L588.85 550.8L594.15 556.1L588.85 561.4Z" fill="#0a6f0a" stroke="#000" stroke-width="1.3"/>
<path d="M592.33 562.7L597.63 557.4L602.93 562.7L597.63 568Z" fill="#0a6f0a" stroke="#000" stroke-width="1.3"/>
<path d="M601.12 572.1L606.42 566.8L611.72 572.1L606.42 577.4Z" fill="#0a6f0a" stroke="#000" stroke-width="1.3"/>
<path d="M627.48 560.8L632.78 555.5L638.08 560.8L632.78 566.1Z" fill="#0a6f0a" stroke="#000" stroke-width="1.3"/>
<path d="M636.27 574.6L641.57 569.3L646.87 574.6L641.57 579.9Z" fill="#0a6f0a" stroke="#000" stroke-width="1.3"/>
<path d="M645.05 568.2L650.35 562.9L655.65 568.2L650.35 573.5Z" fill="#0a6f0a" stroke="#000" stroke-width="1.3"/>
<path d="M671.41 574.6L676.71 569.3L682.01 574.6L676.71 579.9Z" fill="#0a6f0a" stroke="#000" stroke-width="1.3"/>
<path d="M680.2 570.7L685.5 565.4L690.8 570.7L685.5 576Z" fill="#0a6f0a" stroke="#000" stroke-width="1.3"/>
<path d="M688.99 564.3L694.29 559L699.59 564.3L694.29 569.6Z" fill="#0a6f0a" stroke="#000" stroke-width="1.3"/>
<path d="M715.35 573.1L720.65 567.8L725.95 573.1L720.65 578.4Z" fill="#0a6f0a" stroke="#000" stroke-width="1.3"/>
<path d="M724.13 576L729.43 570.7L734.73 576L729.43 581.3Z" fill="#0a6f0a" stroke="#000" stroke-width="1.3"/>
<path d="M732.92 567.8L738.22 562.5L743.52 567.8L738.22 573.1Z" fill="#0a6f0a" stroke="#000" stroke-width="1.3"/>
<path d="M759.28 569.2L764.58 563.9L769.88 569.2L764.58 574.5Z" fill="#0a6f0a" stroke="#000" stroke-width="1.3"/>
<path d="M768.07 572.1L773.37 566.8L778.67 572.1L773.37 577.4Z" fill="#0a6f0a" stroke="#000" stroke-width="1.3"/>
<path d="M776.85 578.9L782.15 573.6L787.45 578.9L782.15 584.2Z" fill="#0a6f0a" stroke="#000" stroke-width="1.3"/>
<path d="M549.3 804.2L558.1 804.2L553.7 796.4Z" fill="#f0800c" stroke="#000" stroke-width="1.3"/>
<path d="M558.09 800.8L566.89 800.8L562.49 793Z" fill="#f0800c" stroke="#000" stroke-width="1.3"/>
<path d="M566.87 806.1L575.67 806.1L571.27 798.3Z" fill="#f0800c" stroke="#000" stroke-width="1.3"/>
<path d="M584.45 811.9L593.25 811.9L588.85 804.1Z" fill="#f0800c" stroke="#000" stroke-width="1.3"/>
<path d="M593.23 800.8L602.03 800.8L597.63 793Z" fill="#f0800c" stroke="#000" stroke-width="1.3"/>
<path d="M602.02 800.3L610.82 800.3L606.42 792.5Z" fill="#f0800c" stroke="#000" stroke-width="1.3"/>
<path d="M628.38 805.5L637.18 805.5L632.78 797.7Z" fill="#f0800c" stroke="#000" stroke-width="1.3"/>
<path d="M637.17 804.2L645.97 804.2L641.57 796.4Z" fill="#f0800c" stroke="#000" stroke-width="1.3"/>
<path d="M645.95 797.9L654.75 797.9L650.35 790.1Z" fill="#f0800c" stroke="#000" stroke-width="1.3"/>
<path d="M672.31 801.6L681.11 801.6L676.71 793.8Z" fill="#f0800c" stroke="#000" stroke-width="1.3"/>
<path d="M681.1 802.2L689.9 802.2L685.5 794.4Z" fill="#f0800c" stroke="#000" stroke-width="1.3"/>
<path d="M689.89 792.1L698.69 792.1L694.29 784.3Z" fill="#f0800c" stroke="#000" stroke-width="1.3"/>
<path d="M716.25 795L725.05 795L720.65 787.2Z" fill="#f0800c" stroke="#000" stroke-width="1.3"/>
<path d="M725.03 794L733.83 794L729.43 786.2Z" fill="#f0800c" stroke="#000" stroke-width="1.3"/>
<path d="M733.82 796L742.62 796L738.22 788.2Z" fill="#f0800c" stroke="#000" stroke-width="1.3"/>
<path d="M760.18 794.4L768.98 794.4L764.58 786.6Z" fill="#f0800c" stroke="#000" stroke-width="1.3"/>
<path d="M768.97 791.9L777.77 791.9L773.37 784.1Z" fill="#f0800c" stroke="#000" stroke-width="1.3"/>
<path d="M777.75 792.5L786.55 792.5L782.15 784.7Z" fill="#f0800c" stroke="#000" stroke-width="1.3"/>
</g>
<rect x="1005.27" y="627.4" width="26.4" height="117.9" fill="#7d00ff" stroke="#1a0a2a" stroke-width="1.1"/>
<rect x="1049.23" y="570.4" width="26.4" height="174.9" fill="#7d00ff" stroke="#1a0a2a" stroke-width="1.1"/>
<rect x="1093.2" y="548.6" width="26.4" height="196.7" fill="#7d00ff" stroke="#1a0a2a" stroke-width="1.1"/>
<rect x="1137.17" y="534.4" width="26.4" height="210.9" fill="#7d00ff" stroke="#1a0a2a" stroke-width="1.1"/>
<rect x="1181.13" y="532.5" width="26.4" height="212.8" fill="#7d00ff" stroke="#1a0a2a" stroke-width="1.1"/>
<line x1="962.5" y1="514.2" x2="1250.3" y2="514.2" stroke="#1a1a1a" stroke-width="1.5"/>
<line x1="962.5" y1="748" x2="1250.3" y2="748" stroke="#1a1a1a" stroke-width="1.5"/>
<line x1="974.5" y1="514.2" x2="974.5" y2="748" stroke="#1a1a1a" stroke-width="1.5"/>
<line x1="1238.3" y1="514.2" x2="1238.3" y2="757.5" stroke="#1a1a1a" stroke-width="1.5"/>
<line x1="962.5" y1="701.24" x2="974.5" y2="701.24" stroke="#1a1a1a" stroke-width="1.5"/>
<line x1="1238.3" y1="701.24" x2="1250.3" y2="701.24" stroke="#1a1a1a" stroke-width="1.5"/>
<line x1="962.5" y1="654.48" x2="974.5" y2="654.48" stroke="#1a1a1a" stroke-width="1.5"/>
<line x1="1238.3" y1="654.48" x2="1250.3" y2="654.48" stroke="#1a1a1a" stroke-width="1.5"/>
<line x1="962.5" y1="607.72" x2="974.5" y2="607.72" stroke="#1a1a1a" stroke-width="1.5"/>
<line x1="1238.3" y1="607.72" x2="1250.3" y2="607.72" stroke="#1a1a1a" stroke-width="1.5"/>
<line x1="962.5" y1="560.96" x2="974.5" y2="560.96" stroke="#1a1a1a" stroke-width="1.5"/>
<line x1="1238.3" y1="560.96" x2="1250.3" y2="560.96" stroke="#1a1a1a" stroke-width="1.5"/>
<line x1="974.5" y1="748" x2="974.5" y2="757.5" stroke="#1a1a1a" stroke-width="1.5"/>
<line x1="1018.47" y1="748" x2="1018.47" y2="757.5" stroke="#1a1a1a" stroke-width="1.5"/>
<line x1="1062.43" y1="748" x2="1062.43" y2="757.5" stroke="#1a1a1a" stroke-width="1.5"/>
<line x1="1106.4" y1="748" x2="1106.4" y2="757.5" stroke="#1a1a1a" stroke-width="1.5"/>
<line x1="1150.37" y1="748" x2="1150.37" y2="757.5" stroke="#1a1a1a" stroke-width="1.5"/>
<line x1="1194.33" y1="748" x2="1194.33" y2="757.5" stroke="#1a1a1a" stroke-width="1.5"/>
<text x="951.6" y="757.2" font-size="24" fill="#111" text-anchor="end" textLength="14.6" lengthAdjust="spacingAndGlyphs">0</text>
<text x="1259.9" y="757.2" font-size="24" fill="#111" textLength="14.6" lengthAdjust="spacingAndGlyphs">0</text>
<text x="951.6" y="710.44" font-size="24" fill="#111" text-anchor="end" textLength="44.4" lengthAdjust="spacingAndGlyphs">100</text>
<text x="1259.9" y="710.44" font-size="24" fill="#111" textLength="44.4" lengthAdjust="spacingAndGlyphs">100</text>
<text x="951.6" y="663.68" font-size="24" fill="#111" text-anchor="end" textLength="44.4" lengthAdjust="spacingAndGlyphs">200</text>
<text x="1259.9" y="663.68" font-size="24" fill="#111" textLength="44.4" lengthAdjust="spacingAndGlyphs">200</text>
<text x="951.6" y="616.92" font-size="24" fill="#111" text-anchor="end" textLength="44.4" lengthAdjust="spacingAndGlyphs">300</text>
<text x="1259.9" y="616.92" font-size="24" fill="#111" textLength="44.4" lengthAdjust="spacingAndGlyphs">300</text>
<text x="951.6" y="570.16" font-size="24" fill="#111" text-anchor="end" textLength="44.4" lengthAdjust="spacingAndGlyphs">400</text>
<text x="1259.9" y="570.16" font-size="24" fill="#111" textLength="44.4" lengthAdjust="spacingAndGlyphs">400</text>
<text x="951.6" y="523.4" font-size="24" fill="#111" text-anchor="end" textLength="44.4" lengthAdjust="spacingAndGlyphs">500</text>
<text x="1259.9" y="523.4" font-size="24" fill="#111" textLength="44.4" lengthAdjust="spacingAndGlyphs">500</text>
<rect x="974.5" y="771.2" width="263.8" height="58.8" fill="none" stroke="#1a1a1a" stroke-width="1.5"/>
<line x1="974.5" y1="830" x2="974.5" y2="841.8" stroke="#1a1a1a" stroke-width="1.5"/>
<text x="975.8" y="871.4" font-size="24" fill="#111" text-anchor="middle" textLength="15.6" lengthAdjust="spacingAndGlyphs">0</text>
<line x1="1018.47" y1="830" x2="1018.47" y2="841.8" stroke="#1a1a1a" stroke-width="1.5"/>
<text x="1018.47" y="871.4" font-size="24" fill="#111" text-anchor="middle" textLength="14.2" lengthAdjust="spacingAndGlyphs">1</text>
<line x1="1062.43" y1="830" x2="1062.43" y2="841.8" stroke="#1a1a1a" stroke-width="1.5"/>
<text x="1062.43" y="871.4" font-size="24" fill="#111" text-anchor="middle" textLength="14.2" lengthAdjust="spacingAndGlyphs">2</text>
<line x1="1106.4" y1="830" x2="1106.4" y2="841.8" stroke="#1a1a1a" stroke-width="1.5"/>
<text x="1106.4" y="871.4" font-size="24" fill="#111" text-anchor="middle" textLength="14.2" lengthAdjust="spacingAndGlyphs">3</text>
<line x1="1150.37" y1="830" x2="1150.37" y2="841.8" stroke="#1a1a1a" stroke-width="1.5"/>
<text x="1150.37" y="871.4" font-size="24" fill="#111" text-anchor="middle" textLength="14.2" lengthAdjust="spacingAndGlyphs">4</text>
<line x1="1194.33" y1="830" x2="1194.33" y2="841.8" stroke="#1a1a1a" stroke-width="1.5"/>
<text x="1194.33" y="871.4" font-size="24" fill="#111" text-anchor="middle" textLength="14.2" lengthAdjust="spacingAndGlyphs">5</text>
<line x1="1238.3" y1="830" x2="1238.3" y2="841.8" stroke="#1a1a1a" stroke-width="1.5"/>
<text x="1238.3" y="871.4" font-size="24" fill="#111" text-anchor="middle" textLength="14.2" lengthAdjust="spacingAndGlyphs">6</text>
<line x1="962.5" y1="771.2" x2="974.5" y2="771.2" stroke="#1a1a1a" stroke-width="1.5"/>
<text x="951.6" y="780.4" font-size="24" fill="#111" text-anchor="end" textLength="44.4" lengthAdjust="spacingAndGlyphs">300</text>
<line x1="962.5" y1="810.5" x2="974.5" y2="810.5" stroke="#1a1a1a" stroke-width="1.5"/>
<text x="951.6" y="819.7" font-size="24" fill="#111" text-anchor="end" textLength="44.4" lengthAdjust="spacingAndGlyphs">200</text>
<text x="1105.9" y="918.5" font-size="28" fill="#111" text-anchor="middle" textLength="103.5" lengthAdjust="spacingAndGlyphs">Time (h)</text>
<g clip-path="url(#cp3)">
<line x1="1018.47" y1="605.6" x2="1018.47" y2="649.7" stroke="#222" stroke-width="1.3"/>
<line x1="1006.97" y1="605.6" x2="1029.97" y2="605.6" stroke="#222" stroke-width="1.3"/>
<line x1="1006.97" y1="649.7" x2="1029.97" y2="649.7" stroke="#222" stroke-width="1.3"/>
<line x1="1062.43" y1="544.3" x2="1062.43" y2="596.6" stroke="#222" stroke-width="1.3"/>
<line x1="1050.93" y1="544.3" x2="1073.93" y2="544.3" stroke="#222" stroke-width="1.3"/>
<line x1="1050.93" y1="596.6" x2="1073.93" y2="596.6" stroke="#222" stroke-width="1.3"/>
<line x1="1106.4" y1="527.6" x2="1106.4" y2="571" stroke="#222" stroke-width="1.3"/>
<line x1="1094.9" y1="527.6" x2="1117.9" y2="527.6" stroke="#222" stroke-width="1.3"/>
<line x1="1094.9" y1="571" x2="1117.9" y2="571" stroke="#222" stroke-width="1.3"/>
<line x1="1150.37" y1="515.2" x2="1150.37" y2="554" stroke="#222" stroke-width="1.3"/>
<line x1="1138.87" y1="515.2" x2="1161.87" y2="515.2" stroke="#222" stroke-width="1.3"/>
<line x1="1138.87" y1="554" x2="1161.87" y2="554" stroke="#222" stroke-width="1.3"/>
<line x1="1194.33" y1="514.2" x2="1194.33" y2="551.1" stroke="#222" stroke-width="1.3"/>
<line x1="1182.83" y1="551.1" x2="1205.83" y2="551.1" stroke="#222" stroke-width="1.3"/>
<line x1="1018.47" y1="514.2" x2="1018.47" y2="574.5" stroke="#2a9a2a" stroke-width="1.3"/>
<line x1="1006.97" y1="574.5" x2="1029.97" y2="574.5" stroke="#2a9a2a" stroke-width="1.3"/>
<line x1="1062.43" y1="535" x2="1062.43" y2="589.8" stroke="#2a9a2a" stroke-width="1.3"/>
<line x1="1050.93" y1="535" x2="1073.93" y2="535" stroke="#2a9a2a" stroke-width="1.3"/>
<line x1="1050.93" y1="589.8" x2="1073.93" y2="589.8" stroke="#2a9a2a" stroke-width="1.3"/>
<line x1="1106.4" y1="550.2" x2="1106.4" y2="588.5" stroke="#2a9a2a" stroke-width="1.3"/>
<line x1="1094.9" y1="550.2" x2="1117.9" y2="550.2" stroke="#2a9a2a" stroke-width="1.3"/>
<line x1="1094.9" y1="588.5" x2="1117.9" y2="588.5" stroke="#2a9a2a" stroke-width="1.3"/>
<line x1="1150.37" y1="546.1" x2="1150.37" y2="580.1" stroke="#2a9a2a" stroke-width="1.3"/>
<line x1="1138.87" y1="546.1" x2="1161.87" y2="546.1" stroke="#2a9a2a" stroke-width="1.3"/>
<line x1="1138.87" y1="580.1" x2="1161.87" y2="580.1" stroke="#2a9a2a" stroke-width="1.3"/>
<line x1="1194.33" y1="545.7" x2="1194.33" y2="577.8" stroke="#2a9a2a" stroke-width="1.3"/>
<line x1="1182.83" y1="545.7" x2="1205.83" y2="545.7" stroke="#2a9a2a" stroke-width="1.3"/>
<line x1="1182.83" y1="577.8" x2="1205.83" y2="577.8" stroke="#2a9a2a" stroke-width="1.3"/>
<line x1="963.2" y1="522" x2="986" y2="522" stroke="#4aa3ff" stroke-width="1.2"/>
<line x1="963.2" y1="523.4" x2="986" y2="523.4" stroke="#4aa3ff" stroke-width="1.2"/>
<line x1="1006.5" y1="618" x2="1030" y2="618" stroke="#4aa3ff" stroke-width="1.2"/>
<line x1="1006.5" y1="622" x2="1030" y2="622" stroke="#4aa3ff" stroke-width="1.2"/>
<line x1="1050.7" y1="702" x2="1074" y2="702" stroke="#4aa3ff" stroke-width="1.2"/>
<line x1="1050.7" y1="706.2" x2="1074" y2="706.2" stroke="#4aa3ff" stroke-width="1.2"/>
<line x1="1095" y1="737.4" x2="1118" y2="737.4" stroke="#4aa3ff" stroke-width="1.2"/>
<line x1="1095" y1="739.9" x2="1118" y2="739.9" stroke="#4aa3ff" stroke-width="1.2"/>
<line x1="1006.5" y1="817.1" x2="1030" y2="817.1" stroke="#ff9a3c" stroke-width="1.2"/>
<line x1="1006.5" y1="821" x2="1030" y2="821" stroke="#ff9a3c" stroke-width="1.2"/>
<line x1="1182" y1="796.7" x2="1206" y2="796.7" stroke="#ff9a3c" stroke-width="1.2"/>
<line x1="1182" y1="798.6" x2="1206" y2="798.6" stroke="#ff9a3c" stroke-width="1.2"/>
<polyline points="975,524.9 1018.47,616 1062.43,704.3 1106.4,738.3 1150.37,747.1 1194.33,748" fill="none" stroke="#1a8cff" stroke-width="2.4" stroke-linejoin="round"/>
<polyline points="1018.47,536 1062.43,562.6 1106.4,569 1150.37,562.6 1194.33,561.8" fill="none" stroke="#118011" stroke-width="2.4" stroke-linejoin="round"/>
<polyline points="962.2,822.9 983.29,822.3 1018.47,818.5 1031.66,816.5 1062.43,805 1106.4,796.5 1150.37,795.8 1194.33,797.5 1205.8,797.5" fill="none" stroke="#ff7f0e" stroke-width="2.4" stroke-linejoin="round"/>
<path d="M1005.7 607.9L1014.3 607.9L1010 615.5Z" fill="#fff" stroke="#000" stroke-width="1.3" stroke-linejoin="miter"/>
<path d="M1023.2 617.6L1031.8 617.6L1027.5 625.2Z" fill="#fff" stroke="#000" stroke-width="1.3" stroke-linejoin="miter"/>
<path d="M1014.5 650.7L1023.1 650.7L1018.8 658.3Z" fill="#fff" stroke="#000" stroke-width="1.3" stroke-linejoin="miter"/>
<path d="M1049.3 537.9L1057.9 537.9L1053.6 545.5Z" fill="#fff" stroke="#000" stroke-width="1.3" stroke-linejoin="miter"/>
<path d="M1067 579.7L1075.6 579.7L1071.3 587.3Z" fill="#fff" stroke="#000" stroke-width="1.3" stroke-linejoin="miter"/>
<path d="M1058.2 587.5L1066.8 587.5L1062.5 595.1Z" fill="#fff" stroke="#000" stroke-width="1.3" stroke-linejoin="miter"/>
<path d="M1093 524.3L1101.6 524.3L1097.3 531.9Z" fill="#fff" stroke="#000" stroke-width="1.3" stroke-linejoin="miter"/>
<path d="M1102.4 549.6L1111 549.6L1106.7 557.2Z" fill="#fff" stroke="#000" stroke-width="1.3" stroke-linejoin="miter"/>
<path d="M1110.7 567.1L1119.3 567.1L1115 574.7Z" fill="#fff" stroke="#000" stroke-width="1.3" stroke-linejoin="miter"/>
<path d="M1137 516.5L1145.6 516.5L1141.3 524.1Z" fill="#fff" stroke="#000" stroke-width="1.3" stroke-linejoin="miter"/>
<path d="M1146.1 524.9L1154.7 524.9L1150.4 532.5Z" fill="#fff" stroke="#000" stroke-width="1.3" stroke-linejoin="miter"/>
<path d="M1154.9 555L1163.5 555L1159.2 562.6Z" fill="#fff" stroke="#000" stroke-width="1.3" stroke-linejoin="miter"/>
<path d="M1181.1 513.6L1189.7 513.6L1185.4 521.2Z" fill="#fff" stroke="#000" stroke-width="1.3" stroke-linejoin="miter"/>
<path d="M1189.9 526.2L1198.5 526.2L1194.2 533.8Z" fill="#fff" stroke="#000" stroke-width="1.3" stroke-linejoin="miter"/>
<path d="M1198.6 550.9L1207.2 550.9L1202.9 558.5Z" fill="#fff" stroke="#000" stroke-width="1.3" stroke-linejoin="miter"/>
<path d="M970.2 746.2L978.8 746.2L974.5 753.8Z" fill="#fff" stroke="#000" stroke-width="1.3" stroke-linejoin="miter"/>
<path d="M978.99 746.2L987.59 746.2L983.29 753.8Z" fill="#fff" stroke="#000" stroke-width="1.3" stroke-linejoin="miter"/>
<path d="M987.79 746.2L996.39 746.2L992.09 753.8Z" fill="#fff" stroke="#000" stroke-width="1.3" stroke-linejoin="miter"/>
<circle cx="975" cy="524.9" r="4.3" fill="#0f82f0" stroke="#000" stroke-width="1.3"/>
<circle cx="983.6" cy="514.6" r="4.3" fill="#0f82f0" stroke="#000" stroke-width="1.3"/>
<circle cx="992.5" cy="526.6" r="4.3" fill="#0f82f0" stroke="#000" stroke-width="1.3"/>
<circle cx="1018.8" cy="614.7" r="4.3" fill="#0f82f0" stroke="#000" stroke-width="1.3"/>
<circle cx="1010" cy="644.9" r="4.3" fill="#0f82f0" stroke="#000" stroke-width="1.3"/>
<circle cx="1027.5" cy="638.4" r="4.3" fill="#0f82f0" stroke="#000" stroke-width="1.3"/>
<circle cx="1062.9" cy="687.4" r="4.3" fill="#0f82f0" stroke="#000" stroke-width="1.3"/>
<circle cx="1071.3" cy="714" r="4.3" fill="#0f82f0" stroke="#000" stroke-width="1.3"/>
<circle cx="1053.6" cy="723.7" r="4.3" fill="#0f82f0" stroke="#000" stroke-width="1.3"/>
<circle cx="1106.7" cy="728" r="4.3" fill="#0f82f0" stroke="#000" stroke-width="1.3"/>
<circle cx="1097.5" cy="746.1" r="4.3" fill="#0f82f0" stroke="#000" stroke-width="1.3"/>
<circle cx="1115" cy="742.8" r="4.3" fill="#0f82f0" stroke="#000" stroke-width="1.3"/>
<circle cx="1141.5" cy="747.3" r="4.3" fill="#0f82f0" stroke="#000" stroke-width="1.3"/>
<circle cx="1150.4" cy="747.3" r="4.3" fill="#0f82f0" stroke="#000" stroke-width="1.3"/>
<circle cx="1159.2" cy="747.3" r="4.3" fill="#0f82f0" stroke="#000" stroke-width="1.3"/>
<circle cx="1185.4" cy="748" r="4.3" fill="#0f82f0" stroke="#000" stroke-width="1.3"/>
<circle cx="1194.2" cy="748" r="4.3" fill="#0f82f0" stroke="#000" stroke-width="1.3"/>
<circle cx="1202.9" cy="747.6" r="4.3" fill="#0f82f0" stroke="#000" stroke-width="1.3"/>
<path d="M1004.7 524.3L1010 519L1015.3 524.3L1010 529.6Z" fill="#0a6f0a" stroke="#000" stroke-width="1.3"/>
<path d="M1013.5 541.2L1018.8 535.9L1024.1 541.2L1018.8 546.5Z" fill="#0a6f0a" stroke="#000" stroke-width="1.3"/>
<path d="M1022.2 527.6L1027.5 522.3L1032.8 527.6L1027.5 532.9Z" fill="#0a6f0a" stroke="#000" stroke-width="1.3"/>
<path d="M1048.3 545.1L1053.6 539.8L1058.9 545.1L1053.6 550.4Z" fill="#0a6f0a" stroke="#000" stroke-width="1.3"/>
<path d="M1057.2 557.7L1062.5 552.4L1067.8 557.7L1062.5 563Z" fill="#0a6f0a" stroke="#000" stroke-width="1.3"/>
<path d="M1066 576.8L1071.3 571.5L1076.6 576.8L1071.3 582.1Z" fill="#0a6f0a" stroke="#000" stroke-width="1.3"/>
<path d="M1092 552.9L1097.3 547.6L1102.6 552.9L1097.3 558.2Z" fill="#0a6f0a" stroke="#000" stroke-width="1.3"/>
<path d="M1101.4 559.7L1106.7 554.4L1112 559.7L1106.7 565Z" fill="#0a6f0a" stroke="#000" stroke-width="1.3"/>
<path d="M1109.7 588.5L1115 583.2L1120.3 588.5L1115 593.8Z" fill="#0a6f0a" stroke="#000" stroke-width="1.3"/>
<path d="M1136 547.6L1141.3 542.3L1146.6 547.6L1141.3 552.9Z" fill="#0a6f0a" stroke="#000" stroke-width="1.3"/>
<path d="M1145.1 554.1L1150.4 548.8L1155.7 554.1L1150.4 559.4Z" fill="#0a6f0a" stroke="#000" stroke-width="1.3"/>
<path d="M1153.9 580.3L1159.2 575L1164.5 580.3L1159.2 585.6Z" fill="#0a6f0a" stroke="#000" stroke-width="1.3"/>
<path d="M1180.1 545.1L1185.4 539.8L1190.7 545.1L1185.4 550.4Z" fill="#0a6f0a" stroke="#000" stroke-width="1.3"/>
<path d="M1188.9 556.4L1194.2 551.1L1199.5 556.4L1194.2 561.7Z" fill="#0a6f0a" stroke="#000" stroke-width="1.3"/>
<path d="M1197.6 577.2L1202.9 571.9L1208.2 577.2L1202.9 582.5Z" fill="#0a6f0a" stroke="#000" stroke-width="1.3"/>
<path d="M969.7 827.5L978.5 827.5L974.1 819.7Z" fill="#f0800c" stroke="#000" stroke-width="1.3"/>
<path d="M978.4 821.3L987.2 821.3L982.8 813.5Z" fill="#f0800c" stroke="#000" stroke-width="1.3"/>
<path d="M987.2 827.5L996 827.5L991.6 819.7Z" fill="#f0800c" stroke="#000" stroke-width="1.3"/>
<path d="M1013.4 805.7L1022.2 805.7L1017.8 797.9Z" fill="#f0800c" stroke="#000" stroke-width="1.3"/>
<path d="M1022.2 816.2L1031 816.2L1026.6 808.4Z" fill="#f0800c" stroke="#000" stroke-width="1.3"/>
<path d="M1048.4 809L1057.2 809L1052.8 801.2Z" fill="#f0800c" stroke="#000" stroke-width="1.3"/>
<path d="M1057.5 809L1066.3 809L1061.9 801.2Z" fill="#f0800c" stroke="#000" stroke-width="1.3"/>
<path d="M1066.3 804.2L1075.1 804.2L1070.7 796.4Z" fill="#f0800c" stroke="#000" stroke-width="1.3"/>
<path d="M1092.5 802.6L1101.3 802.6L1096.9 794.8Z" fill="#f0800c" stroke="#000" stroke-width="1.3"/>
<path d="M1101.7 797.9L1110.5 797.9L1106.1 790.1Z" fill="#f0800c" stroke="#000" stroke-width="1.3"/>
<path d="M1110 796.4L1118.8 796.4L1114.4 788.6Z" fill="#f0800c" stroke="#000" stroke-width="1.3"/>
<path d="M1136.3 801.8L1145.1 801.8L1140.7 794Z" fill="#f0800c" stroke="#000" stroke-width="1.3"/>
<path d="M1145.4 799.7L1154.2 799.7L1149.8 791.9Z" fill="#f0800c" stroke="#000" stroke-width="1.3"/>
<path d="M1154.2 793.1L1163 793.1L1158.6 785.3Z" fill="#f0800c" stroke="#000" stroke-width="1.3"/>
<path d="M1180.4 792.5L1189.2 792.5L1184.8 784.7Z" fill="#f0800c" stroke="#000" stroke-width="1.3"/>
<path d="M1189.4 811.9L1198.2 811.9L1193.8 804.1Z" fill="#f0800c" stroke="#000" stroke-width="1.3"/>
<path d="M1197.9 795.8L1206.7 795.8L1202.3 788Z" fill="#f0800c" stroke="#000" stroke-width="1.3"/>
</g>
<rect x="1688.73" y="709.2" width="26.4" height="37.8" fill="#7d00ff" stroke="#1a0a2a" stroke-width="1.1"/>
<rect x="1732.67" y="709.2" width="26.4" height="37.8" fill="#7d00ff" stroke="#1a0a2a" stroke-width="1.1"/>
<rect x="1776.6" y="709.7" width="26.4" height="37.3" fill="#7d00ff" stroke="#1a0a2a" stroke-width="1.1"/>
<rect x="1820.53" y="709.7" width="26.4" height="37.3" fill="#7d00ff" stroke="#1a0a2a" stroke-width="1.1"/>
<rect x="1864.47" y="710.5" width="26.4" height="36.5" fill="#7d00ff" stroke="#1a0a2a" stroke-width="1.1"/>
<line x1="1646" y1="514.2" x2="1933.6" y2="514.2" stroke="#1a1a1a" stroke-width="1.5"/>
<line x1="1646" y1="748" x2="1933.6" y2="748" stroke="#1a1a1a" stroke-width="1.5"/>
<line x1="1658" y1="514.2" x2="1658" y2="748" stroke="#1a1a1a" stroke-width="1.5"/>
<line x1="1921.6" y1="514.2" x2="1921.6" y2="757.5" stroke="#1a1a1a" stroke-width="1.5"/>
<line x1="1646" y1="701.24" x2="1658" y2="701.24" stroke="#1a1a1a" stroke-width="1.5"/>
<line x1="1921.6" y1="701.24" x2="1933.6" y2="701.24" stroke="#1a1a1a" stroke-width="1.5"/>
<line x1="1646" y1="654.48" x2="1658" y2="654.48" stroke="#1a1a1a" stroke-width="1.5"/>
<line x1="1921.6" y1="654.48" x2="1933.6" y2="654.48" stroke="#1a1a1a" stroke-width="1.5"/>
<line x1="1646" y1="607.72" x2="1658" y2="607.72" stroke="#1a1a1a" stroke-width="1.5"/>
<line x1="1921.6" y1="607.72" x2="1933.6" y2="607.72" stroke="#1a1a1a" stroke-width="1.5"/>
<line x1="1646" y1="560.96" x2="1658" y2="560.96" stroke="#1a1a1a" stroke-width="1.5"/>
<line x1="1921.6" y1="560.96" x2="1933.6" y2="560.96" stroke="#1a1a1a" stroke-width="1.5"/>
<line x1="1658" y1="748" x2="1658" y2="757.5" stroke="#1a1a1a" stroke-width="1.5"/>
<line x1="1701.93" y1="748" x2="1701.93" y2="757.5" stroke="#1a1a1a" stroke-width="1.5"/>
<line x1="1745.87" y1="748" x2="1745.87" y2="757.5" stroke="#1a1a1a" stroke-width="1.5"/>
<line x1="1789.8" y1="748" x2="1789.8" y2="757.5" stroke="#1a1a1a" stroke-width="1.5"/>
<line x1="1833.73" y1="748" x2="1833.73" y2="757.5" stroke="#1a1a1a" stroke-width="1.5"/>
<line x1="1877.67" y1="748" x2="1877.67" y2="757.5" stroke="#1a1a1a" stroke-width="1.5"/>
<text x="1635.1" y="757.2" font-size="24" fill="#111" text-anchor="end" textLength="14.6" lengthAdjust="spacingAndGlyphs">0</text>
<text x="1943.2" y="757.2" font-size="24" fill="#111" textLength="14.6" lengthAdjust="spacingAndGlyphs">0</text>
<text x="1635.1" y="710.44" font-size="24" fill="#111" text-anchor="end" textLength="44.4" lengthAdjust="spacingAndGlyphs">100</text>
<text x="1943.2" y="710.44" font-size="24" fill="#111" textLength="44.4" lengthAdjust="spacingAndGlyphs">100</text>
<text x="1635.1" y="663.68" font-size="24" fill="#111" text-anchor="end" textLength="44.4" lengthAdjust="spacingAndGlyphs">200</text>
<text x="1943.2" y="663.68" font-size="24" fill="#111" textLength="44.4" lengthAdjust="spacingAndGlyphs">200</text>
<text x="1635.1" y="616.92" font-size="24" fill="#111" text-anchor="end" textLength="44.4" lengthAdjust="spacingAndGlyphs">300</text>
<text x="1943.2" y="616.92" font-size="24" fill="#111" textLength="44.4" lengthAdjust="spacingAndGlyphs">300</text>
<text x="1635.1" y="570.16" font-size="24" fill="#111" text-anchor="end" textLength="44.4" lengthAdjust="spacingAndGlyphs">400</text>
<text x="1943.2" y="570.16" font-size="24" fill="#111" textLength="44.4" lengthAdjust="spacingAndGlyphs">400</text>
<text x="1635.1" y="523.4" font-size="24" fill="#111" text-anchor="end" textLength="44.4" lengthAdjust="spacingAndGlyphs">500</text>
<text x="1943.2" y="523.4" font-size="24" fill="#111" textLength="44.4" lengthAdjust="spacingAndGlyphs">500</text>
<rect x="1658" y="771.2" width="263.6" height="58.8" fill="none" stroke="#1a1a1a" stroke-width="1.5"/>
<line x1="1658" y1="830" x2="1658" y2="841.8" stroke="#1a1a1a" stroke-width="1.5"/>
<text x="1659.3" y="871.4" font-size="24" fill="#111" text-anchor="middle" textLength="15.6" lengthAdjust="spacingAndGlyphs">0</text>
<line x1="1701.93" y1="830" x2="1701.93" y2="841.8" stroke="#1a1a1a" stroke-width="1.5"/>
<text x="1701.93" y="871.4" font-size="24" fill="#111" text-anchor="middle" textLength="14.2" lengthAdjust="spacingAndGlyphs">1</text>
<line x1="1745.87" y1="830" x2="1745.87" y2="841.8" stroke="#1a1a1a" stroke-width="1.5"/>
<text x="1745.87" y="871.4" font-size="24" fill="#111" text-anchor="middle" textLength="14.2" lengthAdjust="spacingAndGlyphs">2</text>
<line x1="1789.8" y1="830" x2="1789.8" y2="841.8" stroke="#1a1a1a" stroke-width="1.5"/>
<text x="1789.8" y="871.4" font-size="24" fill="#111" text-anchor="middle" textLength="14.2" lengthAdjust="spacingAndGlyphs">3</text>
<line x1="1833.73" y1="830" x2="1833.73" y2="841.8" stroke="#1a1a1a" stroke-width="1.5"/>
<text x="1833.73" y="871.4" font-size="24" fill="#111" text-anchor="middle" textLength="14.2" lengthAdjust="spacingAndGlyphs">4</text>
<line x1="1877.67" y1="830" x2="1877.67" y2="841.8" stroke="#1a1a1a" stroke-width="1.5"/>
<text x="1877.67" y="871.4" font-size="24" fill="#111" text-anchor="middle" textLength="14.2" lengthAdjust="spacingAndGlyphs">5</text>
<line x1="1921.6" y1="830" x2="1921.6" y2="841.8" stroke="#1a1a1a" stroke-width="1.5"/>
<text x="1921.6" y="871.4" font-size="24" fill="#111" text-anchor="middle" textLength="14.2" lengthAdjust="spacingAndGlyphs">6</text>
<line x1="1646" y1="795.6" x2="1658" y2="795.6" stroke="#1a1a1a" stroke-width="1.5"/>
<text x="1635.1" y="804.8" font-size="24" fill="#111" text-anchor="end" textLength="44.4" lengthAdjust="spacingAndGlyphs">500</text>
<line x1="1646" y1="830" x2="1658" y2="830" stroke="#1a1a1a" stroke-width="1.5"/>
<text x="1635.1" y="839.2" font-size="24" fill="#111" text-anchor="end" textLength="44.4" lengthAdjust="spacingAndGlyphs">400</text>
<text x="1789.3" y="916.9" font-size="28" fill="#111" text-anchor="middle" textLength="103.5" lengthAdjust="spacingAndGlyphs">Time (h)</text>
<g clip-path="url(#cp4)">
<line x1="1877.67" y1="705.9" x2="1877.67" y2="714" stroke="#222" stroke-width="1.3"/>
<line x1="1866.17" y1="705.9" x2="1889.17" y2="705.9" stroke="#222" stroke-width="1.3"/>
<line x1="1866.17" y1="714" x2="1889.17" y2="714" stroke="#222" stroke-width="1.3"/>
<line x1="1701.93" y1="553.5" x2="1701.93" y2="557.5" stroke="#2a9a2a" stroke-width="1.3"/>
<line x1="1690.43" y1="553.5" x2="1713.43" y2="553.5" stroke="#2a9a2a" stroke-width="1.3"/>
<line x1="1690.43" y1="557.5" x2="1713.43" y2="557.5" stroke="#2a9a2a" stroke-width="1.3"/>
<line x1="1745.87" y1="558.3" x2="1745.87" y2="560" stroke="#2a9a2a" stroke-width="1.3"/>
<line x1="1734.37" y1="558.3" x2="1757.37" y2="558.3" stroke="#2a9a2a" stroke-width="1.3"/>
<line x1="1734.37" y1="560" x2="1757.37" y2="560" stroke="#2a9a2a" stroke-width="1.3"/>
<line x1="1789.8" y1="560.7" x2="1789.8" y2="562" stroke="#2a9a2a" stroke-width="1.3"/>
<line x1="1778.3" y1="560.7" x2="1801.3" y2="560.7" stroke="#2a9a2a" stroke-width="1.3"/>
<line x1="1778.3" y1="562" x2="1801.3" y2="562" stroke="#2a9a2a" stroke-width="1.3"/>
<line x1="1833.73" y1="561.8" x2="1833.73" y2="562.5" stroke="#2a9a2a" stroke-width="1.3"/>
<line x1="1822.23" y1="561.8" x2="1845.23" y2="561.8" stroke="#2a9a2a" stroke-width="1.3"/>
<line x1="1822.23" y1="562.5" x2="1845.23" y2="562.5" stroke="#2a9a2a" stroke-width="1.3"/>
<line x1="1877.67" y1="530.7" x2="1877.67" y2="572.9" stroke="#2a9a2a" stroke-width="1.3"/>
<line x1="1866.17" y1="530.7" x2="1889.17" y2="530.7" stroke="#2a9a2a" stroke-width="1.3"/>
<line x1="1866.17" y1="572.9" x2="1889.17" y2="572.9" stroke="#2a9a2a" stroke-width="1.3"/>
<line x1="1646.2" y1="771.8" x2="1669.2" y2="771.8" stroke="#ff9a3c" stroke-width="1.2"/>
<line x1="1646.2" y1="775.3" x2="1669.2" y2="775.3" stroke="#ff9a3c" stroke-width="1.2"/>
<polyline points="1646.2,714.6 1658.1,714.6 1698.3,745.1 1716,747.8 1745.87,748 1877.67,748" fill="none" stroke="#1a8cff" stroke-width="2.4" stroke-linejoin="round"/>
<polyline points="1701.93,555.4 1745.87,558.9 1789.8,561.2 1833.73,561.8 1877.67,552.1" fill="none" stroke="#118011" stroke-width="2.4" stroke-linejoin="round"/>
<polyline points="1657.9,774.3 1698.3,814.2 1713.9,814.7 1745.87,811.2 1789.8,808.3 1833.73,809.9 1877.67,811.8 1890.8,812" fill="none" stroke="#ff7f0e" stroke-width="2.4" stroke-linejoin="round"/>
<path d="M1688.85 709.2L1697.45 709.2L1693.15 716.8Z" fill="#fff" stroke="#000" stroke-width="1.3" stroke-linejoin="miter"/>
<path d="M1697.63 709.2L1706.23 709.2L1701.93 716.8Z" fill="#fff" stroke="#000" stroke-width="1.3" stroke-linejoin="miter"/>
<path d="M1706.42 709.2L1715.02 709.2L1710.72 716.8Z" fill="#fff" stroke="#000" stroke-width="1.3" stroke-linejoin="miter"/>
<path d="M1732.78 709.2L1741.38 709.2L1737.08 716.8Z" fill="#fff" stroke="#000" stroke-width="1.3" stroke-linejoin="miter"/>
<path d="M1741.57 709.2L1750.17 709.2L1745.87 716.8Z" fill="#fff" stroke="#000" stroke-width="1.3" stroke-linejoin="miter"/>
<path d="M1750.35 709.2L1758.95 709.2L1754.65 716.8Z" fill="#fff" stroke="#000" stroke-width="1.3" stroke-linejoin="miter"/>
<path d="M1776.71 709.5L1785.31 709.5L1781.01 717.1Z" fill="#fff" stroke="#000" stroke-width="1.3" stroke-linejoin="miter"/>
<path d="M1785.5 709.5L1794.1 709.5L1789.8 717.1Z" fill="#fff" stroke="#000" stroke-width="1.3" stroke-linejoin="miter"/>
<path d="M1794.29 709.5L1802.89 709.5L1798.59 717.1Z" fill="#fff" stroke="#000" stroke-width="1.3" stroke-linejoin="miter"/>
<path d="M1820.65 709.5L1829.25 709.5L1824.95 717.1Z" fill="#fff" stroke="#000" stroke-width="1.3" stroke-linejoin="miter"/>
<path d="M1829.43 709.5L1838.03 709.5L1833.73 717.1Z" fill="#fff" stroke="#000" stroke-width="1.3" stroke-linejoin="miter"/>
<path d="M1838.22 709.5L1846.82 709.5L1842.52 717.1Z" fill="#fff" stroke="#000" stroke-width="1.3" stroke-linejoin="miter"/>
<path d="M1864.58 702.9L1873.18 702.9L1868.88 710.5Z" fill="#fff" stroke="#000" stroke-width="1.3" stroke-linejoin="miter"/>
<path d="M1873.37 710.5L1881.97 710.5L1877.67 718.1Z" fill="#fff" stroke="#000" stroke-width="1.3" stroke-linejoin="miter"/>
<path d="M1882.15 711.1L1890.75 711.1L1886.45 718.7Z" fill="#fff" stroke="#000" stroke-width="1.3" stroke-linejoin="miter"/>
<path d="M1653.7 746.2L1662.3 746.2L1658 753.8Z" fill="#fff" stroke="#000" stroke-width="1.3" stroke-linejoin="miter"/>
<path d="M1662.49 746.2L1671.09 746.2L1666.79 753.8Z" fill="#fff" stroke="#000" stroke-width="1.3" stroke-linejoin="miter"/>
<path d="M1671.27 746.2L1679.87 746.2L1675.57 753.8Z" fill="#fff" stroke="#000" stroke-width="1.3" stroke-linejoin="miter"/>
<circle cx="1658.1" cy="708.8" r="4.3" fill="#0f82f0" stroke="#000" stroke-width="1.3"/>
<circle cx="1666.8" cy="713.4" r="4.3" fill="#0f82f0" stroke="#000" stroke-width="1.3"/>
<circle cx="1676" cy="708.8" r="4.3" fill="#0f82f0" stroke="#000" stroke-width="1.3"/>
<circle cx="1693.3" cy="746.5" r="4.3" fill="#0f82f0" stroke="#000" stroke-width="1.3"/>
<circle cx="1702" cy="748" r="4.3" fill="#0f82f0" stroke="#000" stroke-width="1.3"/>
<circle cx="1710.8" cy="746.5" r="4.3" fill="#0f82f0" stroke="#000" stroke-width="1.3"/>
<circle cx="1737.08" cy="748" r="4.3" fill="#0f82f0" stroke="#000" stroke-width="1.3"/>
<circle cx="1745.87" cy="748" r="4.3" fill="#0f82f0" stroke="#000" stroke-width="1.3"/>
<circle cx="1754.65" cy="748" r="4.3" fill="#0f82f0" stroke="#000" stroke-width="1.3"/>
<circle cx="1781.01" cy="748" r="4.3" fill="#0f82f0" stroke="#000" stroke-width="1.3"/>
<circle cx="1789.8" cy="748" r="4.3" fill="#0f82f0" stroke="#000" stroke-width="1.3"/>
<circle cx="1798.59" cy="748" r="4.3" fill="#0f82f0" stroke="#000" stroke-width="1.3"/>
<circle cx="1824.95" cy="748" r="4.3" fill="#0f82f0" stroke="#000" stroke-width="1.3"/>
<circle cx="1833.73" cy="748" r="4.3" fill="#0f82f0" stroke="#000" stroke-width="1.3"/>
<circle cx="1842.52" cy="748" r="4.3" fill="#0f82f0" stroke="#000" stroke-width="1.3"/>
<circle cx="1868.88" cy="748" r="4.3" fill="#0f82f0" stroke="#000" stroke-width="1.3"/>
<circle cx="1877.67" cy="748" r="4.3" fill="#0f82f0" stroke="#000" stroke-width="1.3"/>
<circle cx="1886.45" cy="748" r="4.3" fill="#0f82f0" stroke="#000" stroke-width="1.3"/>
<path d="M1687.85 562.2L1693.15 556.9L1698.45 562.2L1693.15 567.5Z" fill="#0a6f0a" stroke="#000" stroke-width="1.3"/>
<path d="M1696.63 564.7L1701.93 559.4L1707.23 564.7L1701.93 570Z" fill="#0a6f0a" stroke="#000" stroke-width="1.3"/>
<path d="M1705.42 562.2L1710.72 556.9L1716.02 562.2L1710.72 567.5Z" fill="#0a6f0a" stroke="#000" stroke-width="1.3"/>
<path d="M1731.78 568.1L1737.08 562.8L1742.38 568.1L1737.08 573.4Z" fill="#0a6f0a" stroke="#000" stroke-width="1.3"/>
<path d="M1740.57 568.1L1745.87 562.8L1751.17 568.1L1745.87 573.4Z" fill="#0a6f0a" stroke="#000" stroke-width="1.3"/>
<path d="M1749.35 565.1L1754.65 559.8L1759.95 565.1L1754.65 570.4Z" fill="#0a6f0a" stroke="#000" stroke-width="1.3"/>
<path d="M1775.71 568.4L1781.01 563.1L1786.31 568.4L1781.01 573.7Z" fill="#0a6f0a" stroke="#000" stroke-width="1.3"/>
<path d="M1784.5 569.6L1789.8 564.3L1795.1 569.6L1789.8 574.9Z" fill="#0a6f0a" stroke="#000" stroke-width="1.3"/>
<path d="M1793.29 568.4L1798.59 563.1L1803.89 568.4L1798.59 573.7Z" fill="#0a6f0a" stroke="#000" stroke-width="1.3"/>
<path d="M1819.65 569.6L1824.95 564.3L1830.25 569.6L1824.95 574.9Z" fill="#0a6f0a" stroke="#000" stroke-width="1.3"/>
<path d="M1828.43 569.6L1833.73 564.3L1839.03 569.6L1833.73 574.9Z" fill="#0a6f0a" stroke="#000" stroke-width="1.3"/>
<path d="M1837.22 569L1842.52 563.7L1847.82 569L1842.52 574.3Z" fill="#0a6f0a" stroke="#000" stroke-width="1.3"/>
<path d="M1863.58 536L1868.88 530.7L1874.18 536L1868.88 541.3Z" fill="#0a6f0a" stroke="#000" stroke-width="1.3"/>
<path d="M1872.37 571L1877.67 565.7L1882.97 571L1877.67 576.3Z" fill="#0a6f0a" stroke="#000" stroke-width="1.3"/>
<path d="M1881.15 571.9L1886.45 566.6L1891.75 571.9L1886.45 577.2Z" fill="#0a6f0a" stroke="#000" stroke-width="1.3"/>
<path d="M1653.5 776.9L1662.3 776.9L1657.9 769.1Z" fill="#f0800c" stroke="#000" stroke-width="1.3"/>
<path d="M1670.6 788L1679.4 788L1675 780.2Z" fill="#f0800c" stroke="#000" stroke-width="1.3"/>
<path d="M1688.1 817.8L1696.9 817.8L1692.5 810Z" fill="#f0800c" stroke="#000" stroke-width="1.3"/>
<path d="M1696.8 817.8L1705.6 817.8L1701.2 810Z" fill="#f0800c" stroke="#000" stroke-width="1.3"/>
<path d="M1705.6 819.1L1714.4 819.1L1710 811.3Z" fill="#f0800c" stroke="#000" stroke-width="1.3"/>
<path d="M1731.8 815.8L1740.6 815.8L1736.2 808Z" fill="#f0800c" stroke="#000" stroke-width="1.3"/>
<path d="M1740.6 812.5L1749.4 812.5L1745 804.7Z" fill="#f0800c" stroke="#000" stroke-width="1.3"/>
<path d="M1749.7 813.9L1758.5 813.9L1754.1 806.1Z" fill="#f0800c" stroke="#000" stroke-width="1.3"/>
<path d="M1775.6 811.3L1784.4 811.3L1780 803.5Z" fill="#f0800c" stroke="#000" stroke-width="1.3"/>
<path d="M1784.7 811L1793.5 811L1789.1 803.2Z" fill="#f0800c" stroke="#000" stroke-width="1.3"/>
<path d="M1793.5 812.3L1802.3 812.3L1797.9 804.5Z" fill="#f0800c" stroke="#000" stroke-width="1.3"/>
<path d="M1819.7 812.3L1828.5 812.3L1824.1 804.5Z" fill="#f0800c" stroke="#000" stroke-width="1.3"/>
<path d="M1828.5 812.9L1837.3 812.9L1832.9 805.1Z" fill="#f0800c" stroke="#000" stroke-width="1.3"/>
<path d="M1837.4 813.9L1846.2 813.9L1841.8 806.1Z" fill="#f0800c" stroke="#000" stroke-width="1.3"/>
<path d="M1863.5 811.3L1872.3 811.3L1867.9 803.5Z" fill="#f0800c" stroke="#000" stroke-width="1.3"/>
<path d="M1872.4 816.8L1881.2 816.8L1876.8 809Z" fill="#f0800c" stroke="#000" stroke-width="1.3"/>
<path d="M1881.2 814.3L1890 814.3L1885.6 806.5Z" fill="#f0800c" stroke="#000" stroke-width="1.3"/>
</g>
<line x1="1382.5" y1="513.45" x2="1382.5" y2="748.75" stroke="#1a1a1a" stroke-width="1.5"/>
<line x1="1382.5" y1="748" x2="1394" y2="748" stroke="#1a1a1a" stroke-width="1.5"/>
<text x="1403.3" y="757.2" font-size="24" fill="#111" textLength="14.6" lengthAdjust="spacingAndGlyphs">0</text>
<line x1="1382.5" y1="709.03" x2="1394" y2="709.03" stroke="#1a1a1a" stroke-width="1.5"/>
<text x="1403.3" y="718.23" font-size="24" fill="#111" textLength="29.2" lengthAdjust="spacingAndGlyphs">20</text>
<line x1="1382.5" y1="670.07" x2="1394" y2="670.07" stroke="#1a1a1a" stroke-width="1.5"/>
<text x="1403.3" y="679.27" font-size="24" fill="#111" textLength="29.2" lengthAdjust="spacingAndGlyphs">40</text>
<line x1="1382.5" y1="631.1" x2="1394" y2="631.1" stroke="#1a1a1a" stroke-width="1.5"/>
<text x="1403.3" y="640.3" font-size="24" fill="#111" textLength="29.2" lengthAdjust="spacingAndGlyphs">60</text>
<line x1="1382.5" y1="592.13" x2="1394" y2="592.13" stroke="#1a1a1a" stroke-width="1.5"/>
<text x="1403.3" y="601.33" font-size="24" fill="#111" textLength="29.2" lengthAdjust="spacingAndGlyphs">80</text>
<line x1="1382.5" y1="553.17" x2="1394" y2="553.17" stroke="#1a1a1a" stroke-width="1.5"/>
<text x="1403.3" y="562.37" font-size="24" fill="#111" textLength="41" lengthAdjust="spacingAndGlyphs">100</text>
<line x1="1382.5" y1="514.2" x2="1394" y2="514.2" stroke="#1a1a1a" stroke-width="1.5"/>
<text x="1403.3" y="523.4" font-size="24" fill="#111" textLength="39" lengthAdjust="spacingAndGlyphs">120</text>
<line x1="2059.3" y1="513.45" x2="2059.3" y2="748.75" stroke="#1a1a1a" stroke-width="1.5"/>
<line x1="2059.3" y1="748" x2="2070.8" y2="748" stroke="#1a1a1a" stroke-width="1.5"/>
<text x="2080.1" y="757.2" font-size="24" fill="#111" textLength="14.6" lengthAdjust="spacingAndGlyphs">0</text>
<line x1="2059.3" y1="709.03" x2="2070.8" y2="709.03" stroke="#1a1a1a" stroke-width="1.5"/>
<text x="2080.1" y="718.23" font-size="24" fill="#111" textLength="29.2" lengthAdjust="spacingAndGlyphs">20</text>
<line x1="2059.3" y1="670.07" x2="2070.8" y2="670.07" stroke="#1a1a1a" stroke-width="1.5"/>
<text x="2080.1" y="679.27" font-size="24" fill="#111" textLength="29.2" lengthAdjust="spacingAndGlyphs">40</text>
<line x1="2059.3" y1="631.1" x2="2070.8" y2="631.1" stroke="#1a1a1a" stroke-width="1.5"/>
<text x="2080.1" y="640.3" font-size="24" fill="#111" textLength="29.2" lengthAdjust="spacingAndGlyphs">60</text>
<line x1="2059.3" y1="592.13" x2="2070.8" y2="592.13" stroke="#1a1a1a" stroke-width="1.5"/>
<text x="2080.1" y="601.33" font-size="24" fill="#111" textLength="29.2" lengthAdjust="spacingAndGlyphs">80</text>
<line x1="2059.3" y1="553.17" x2="2070.8" y2="553.17" stroke="#1a1a1a" stroke-width="1.5"/>
<text x="2080.1" y="562.37" font-size="24" fill="#111" textLength="41" lengthAdjust="spacingAndGlyphs">100</text>
<line x1="2059.3" y1="514.2" x2="2070.8" y2="514.2" stroke="#1a1a1a" stroke-width="1.5"/>
<text x="2080.1" y="523.4" font-size="24" fill="#111" textLength="39" lengthAdjust="spacingAndGlyphs">120</text>
<text x="0" y="0" font-size="28.4" fill="#1a8cff" text-anchor="middle" textLength="129.5" lengthAdjust="spacingAndGlyphs" transform="translate(55.4 630.2) rotate(-90)">CO (µmol)</text>
<text x="0" y="0" font-size="28.4" fill="#ff7f0e" text-anchor="middle" textLength="44.5" lengthAdjust="spacingAndGlyphs" transform="translate(23.8 805.8) rotate(-90)">CO</text>
<text x="0" y="0" font-size="18" fill="#ff7f0e" text-anchor="middle" transform="translate(32.8 777) rotate(-90)">2</text>
<text x="0" y="0" font-size="28.4" fill="#ff7f0e" text-anchor="middle" textLength="80" lengthAdjust="spacingAndGlyphs" transform="translate(55.2 800.3) rotate(-90)">(µmol)</text>
<text x="0" y="0" font-size="28.4" fill="#6a0fd6" text-anchor="middle" textLength="181" lengthAdjust="spacingAndGlyphs" transform="translate(1336.8 631.8) rotate(90)">HCOO⁻ (µmol)</text>
<text x="0" y="0" font-size="28.4" fill="#1e8c1e" text-anchor="middle" textLength="108" lengthAdjust="spacingAndGlyphs" transform="translate(1465.4 631) rotate(90)">Yield (%)</text>
<text x="0" y="0" font-size="28.4" fill="#1a8cff" text-anchor="middle" textLength="129.5" lengthAdjust="spacingAndGlyphs" transform="translate(1557.9 629.4) rotate(-90)">CO (µmol)</text>
<text x="0" y="0" font-size="28.4" fill="#ff7f0e" text-anchor="middle" textLength="44.5" lengthAdjust="spacingAndGlyphs" transform="translate(1524.6 805.8) rotate(-90)">CO</text>
<text x="0" y="0" font-size="18" fill="#ff7f0e" text-anchor="middle" transform="translate(1533.6 777) rotate(-90)">2</text>
<text x="0" y="0" font-size="28.4" fill="#ff7f0e" text-anchor="middle" textLength="80" lengthAdjust="spacingAndGlyphs" transform="translate(1556.9 800.8) rotate(-90)">(µmol)</text>
<text x="0" y="0" font-size="28.4" fill="#6a0fd6" text-anchor="middle" textLength="182" lengthAdjust="spacingAndGlyphs" transform="translate(2015.8 627.8) rotate(90)">HCOO⁻ (µmol)</text>
<text x="0" y="0" font-size="28.4" fill="#1e8c1e" text-anchor="middle" textLength="108" lengthAdjust="spacingAndGlyphs" transform="translate(2145 627.8) rotate(90)">Yield (%)</text>
<text x="0.2" y="34.1" font-size="40" fill="#000" font-weight="bold" textLength="21.2" lengthAdjust="spacingAndGlyphs" stroke="#000" stroke-width="0.5">a</text>
<text x="48.6" y="33.9" font-size="27.8" fill="#990505" textLength="158.8" lengthAdjust="spacingAndGlyphs">Steel off-gas</text>
<text x="1502" y="33.4" font-size="40" fill="#000" font-weight="bold" textLength="25" lengthAdjust="spacingAndGlyphs" stroke="#000" stroke-width="0.6">b</text>
<text x="1550.4" y="34.4" font-size="27" fill="#fa7676" textLength="326" lengthAdjust="spacingAndGlyphs">Waste plastic-derived gas</text>
<circle cx="75.5" cy="180.5" r="8" fill="url(#gDark)"/>
<circle cx="90.2" cy="172.4" r="8" fill="url(#gDark)"/>
<circle cx="78.6" cy="171.1" r="8" fill="url(#gDark)"/>
<circle cx="99.3" cy="186.6" r="8" fill="url(#gDark)"/>
<circle cx="69.8" cy="189.5" r="8" fill="url(#gDark)"/>
<circle cx="85.7" cy="189.9" r="8" fill="url(#gDark)"/>
<text x="50.6" y="225.8" font-size="28.5" fill="#111" textLength="58" lengthAdjust="spacingAndGlyphs">Coal</text>
<line x1="129.2" y1="215.2" x2="208.2" y2="215.2" stroke="#44546a" stroke-width="4"/>
<path d="M217.2 215.2L199.7 208.2L204.7 215.2L199.7 222.2Z" fill="#44546a"/>
<text x="212.3" y="86.3" font-size="28.4" fill="#111" textLength="134" lengthAdjust="spacingAndGlyphs">Coke oven</text>
<g clip-path="url(#cpOven)">
<circle cx="339.74" cy="233.56" r="7.4" fill="url(#gDark)"/>
<circle cx="223.9" cy="319.25" r="7.4" fill="url(#gDark)"/>
<circle cx="308.01" cy="240.4" r="7.4" fill="url(#gDark)"/>
<circle cx="255.98" cy="284.3" r="7.4" fill="url(#gDark)"/>
<circle cx="295.09" cy="263.83" r="7.4" fill="url(#gDark)"/>
<circle cx="263.92" cy="318.82" r="7.4" fill="url(#gDark)"/>
<circle cx="338.43" cy="275.25" r="7.4" fill="url(#gDark)"/>
<circle cx="301.27" cy="233.56" r="7.4" fill="url(#gDark)"/>
<circle cx="251.36" cy="233.29" r="7.4" fill="url(#gDark)"/>
<circle cx="258.26" cy="265.32" r="7.4" fill="url(#gDark)"/>
<circle cx="239.26" cy="232.06" r="7.4" fill="url(#gDark)"/>
<circle cx="270.35" cy="263.77" r="7.4" fill="url(#gDark)"/>
<circle cx="313.84" cy="254.65" r="7.4" fill="url(#gDark)"/>
<circle cx="256.31" cy="305.68" r="7.4" fill="url(#gDark)"/>
<circle cx="333.07" cy="286.4" r="7.4" fill="url(#gDark)"/>
<circle cx="288.52" cy="275.3" r="7.4" fill="url(#gDark)"/>
<circle cx="314.34" cy="317.16" r="7.4" fill="url(#gDark)"/>
<circle cx="278" cy="316.55" r="7.4" fill="url(#gDark)"/>
<circle cx="318.46" cy="241.93" r="7.4" fill="url(#gDark)"/>
<circle cx="245.3" cy="305.2" r="7.4" fill="url(#gDark)"/>
<circle cx="231.58" cy="287.99" r="7.4" fill="url(#gDark)"/>
<circle cx="295.81" cy="241.57" r="7.4" fill="url(#gDark)"/>
<circle cx="276.51" cy="255.05" r="7.4" fill="url(#gDark)"/>
<circle cx="225.18" cy="255.03" r="7.4" fill="url(#gDark)"/>
<circle cx="321.05" cy="266.66" r="7.4" fill="url(#gDark)"/>
<circle cx="238.39" cy="253.99" r="7.4" fill="url(#gDark)"/>
<circle cx="334.45" cy="304.92" r="7.4" fill="url(#gDark)"/>
<circle cx="281.2" cy="242.86" r="7.4" fill="url(#gDark)"/>
<circle cx="333.79" cy="243.85" r="7.4" fill="url(#gDark)"/>
<circle cx="274.36" cy="232.04" r="7.4" fill="url(#gDark)"/>
<circle cx="307.22" cy="284.52" r="7.4" fill="url(#gDark)"/>
<circle cx="327.36" cy="235.68" r="7.4" fill="url(#gDark)"/>
<circle cx="305.98" cy="303" r="7.4" fill="url(#gDark)"/>
<circle cx="230.11" cy="308.74" r="7.4" fill="url(#gDark)"/>
<circle cx="225.5" cy="276.24" r="7.4" fill="url(#gDark)"/>
<circle cx="334.42" cy="263.93" r="7.4" fill="url(#gDark)"/>
<circle cx="313.5" cy="292.73" r="7.4" fill="url(#gDark)"/>
<circle cx="287.95" cy="314.38" r="7.4" fill="url(#gDark)"/>
<circle cx="246.81" cy="284.41" r="7.4" fill="url(#gDark)"/>
<circle cx="274.66" cy="295.44" r="7.4" fill="url(#gDark)"/>
<circle cx="249.74" cy="273.65" r="7.4" fill="url(#gDark)"/>
<circle cx="325.27" cy="254.18" r="7.4" fill="url(#gDark)"/>
<circle cx="246.38" cy="243.51" r="7.4" fill="url(#gDark)"/>
<circle cx="322.39" cy="285.95" r="7.4" fill="url(#gDark)"/>
<circle cx="287.07" cy="292.08" r="7.4" fill="url(#gDark)"/>
<circle cx="251.39" cy="314.8" r="7.4" fill="url(#gDark)"/>
<circle cx="295.05" cy="304.52" r="7.4" fill="url(#gDark)"/>
<circle cx="312.54" cy="231.19" r="7.4" fill="url(#gDark)"/>
<circle cx="274.77" cy="272.71" r="7.4" fill="url(#gDark)"/>
<circle cx="287.11" cy="229.8" r="7.4" fill="url(#gDark)"/>
<circle cx="282.99" cy="282.86" r="7.4" fill="url(#gDark)"/>
<circle cx="262.67" cy="254.4" r="7.4" fill="url(#gDark)"/>
<circle cx="261.86" cy="276.17" r="7.4" fill="url(#gDark)"/>
<circle cx="252.85" cy="297.85" r="7.4" fill="url(#gDark)"/>
<circle cx="225.22" cy="232.05" r="7.4" fill="url(#gDark)"/>
<circle cx="293.02" cy="283.4" r="7.4" fill="url(#gDark)"/>
<circle cx="240.36" cy="297.99" r="7.4" fill="url(#gDark)"/>
<circle cx="269.4" cy="303.71" r="7.4" fill="url(#gDark)"/>
<circle cx="236.5" cy="275.6" r="7.4" fill="url(#gDark)"/>
<circle cx="326.05" cy="315.25" r="7.4" fill="url(#gDark)"/>
<circle cx="324.6" cy="294.09" r="7.4" fill="url(#gDark)"/>
<circle cx="252.5" cy="255.76" r="7.4" fill="url(#gDark)"/>
<circle cx="255.83" cy="242.13" r="7.4" fill="url(#gDark)"/>
<circle cx="319.71" cy="304.62" r="7.4" fill="url(#gDark)"/>
<circle cx="300.13" cy="316.49" r="7.4" fill="url(#gDark)"/>
<circle cx="269.16" cy="244.77" r="7.4" fill="url(#gDark)"/>
<circle cx="337.37" cy="255.72" r="7.4" fill="url(#gDark)"/>
<circle cx="234.3" cy="242.2" r="7.4" fill="url(#gDark)"/>
<circle cx="328.2" cy="276.86" r="7.4" fill="url(#gDark)"/>
<circle cx="284.14" cy="307.31" r="7.4" fill="url(#gDark)"/>
<circle cx="226.78" cy="293.97" r="7.4" fill="url(#gDark)"/>
<circle cx="299.75" cy="273.27" r="7.4" fill="url(#gDark)"/>
<circle cx="340.77" cy="319.7" r="7.4" fill="url(#gDark)"/>
<circle cx="284.1" cy="265.47" r="7.4" fill="url(#gDark)"/>
<circle cx="263.33" cy="295.12" r="7.4" fill="url(#gDark)"/>
<circle cx="305.87" cy="264.4" r="7.4" fill="url(#gDark)"/>
<circle cx="238.72" cy="315.63" r="7.4" fill="url(#gDark)"/>
<circle cx="261.86" cy="233.26" r="7.4" fill="url(#gDark)"/>
<circle cx="314.42" cy="276.09" r="7.4" fill="url(#gDark)"/>
<circle cx="300.32" cy="292.64" r="7.4" fill="url(#gDark)"/>
<circle cx="337.65" cy="295.8" r="7.4" fill="url(#gDark)"/>
<circle cx="303.71" cy="250.82" r="7.4" fill="url(#gDark)"/>
<circle cx="233.36" cy="265.63" r="7.4" fill="url(#gDark)"/>
<circle cx="268.83" cy="284.72" r="7.4" fill="url(#gDark)"/>
<circle cx="246.45" cy="264.43" r="7.4" fill="url(#gDark)"/>
<circle cx="290.01" cy="251.59" r="7.4" fill="url(#gDark)"/>
</g>
<path d="M220 110.25H341V283.7L304.2 320.5H256.8L220 283.7Z" fill="none" stroke="#843c0c" stroke-width="6.5" stroke-linejoin="miter"/>
<line x1="344.2" y1="215.2" x2="423.2" y2="215.2" stroke="#44546a" stroke-width="4"/>
<path d="M281.3 329.6 L281.3 335.1 C281.3 341.1 295.6 340.4 301.6 343.6 C303.1 347.88 259.7 343.83 261.2 348.1 C259.7 352.38 303.1 348.33 301.6 352.6 C303.1 356.88 259.7 352.93 261.2 357.2 C259.7 361.47 303.1 357.43 301.6 361.7 C303.1 365.97 259.7 362.03 261.2 366.3 C259.7 370.57 303.1 366.53 301.6 370.8 C303.1 375.07 259.7 371.12 261.2 375.4 C259.7 379.67 303.1 375.62 301.6 379.9 C303.1 384.17 259.7 380.53 261.2 384.8 C265.2 388.4 281.3 385.8 281.3 395 L281.3 415.2" fill="none" stroke="#4472c4" stroke-width="2.5" stroke-linecap="butt"/>
<path d="M281.3 421.2L276 408.7L281.3 411.7L286.6 408.7Z" fill="#4472c4"/>
<text x="312.4" y="356.8" font-size="24.8" fill="#1cadee" textLength="71.5" lengthAdjust="spacingAndGlyphs">6% CO</text>
<text x="312.4" y="384.9" font-size="24.8" fill="#ed7d31" textLength="70.5" lengthAdjust="spacingAndGlyphs">2% CO</text>
<text x="383.2" y="392.9" font-size="15.8" fill="#ed7d31">2</text>
<text x="312.4" y="412.8" font-size="24.8" fill="#404040" textLength="66.5" lengthAdjust="spacingAndGlyphs">55% H</text>
<text x="379.4" y="421" font-size="15.8" fill="#404040">2</text>
<rect x="180.8" y="431.6" width="193.7" height="59.9" rx="9" fill="#fff2cc"/>
<text x="277.65" y="470" font-size="28.6" fill="#111" text-anchor="middle" textLength="62.5" lengthAdjust="spacingAndGlyphs">COG</text>
<circle cx="475.2" cy="176" r="4.2" fill="url(#gLight)"/>
<circle cx="484.5" cy="174.3" r="4.2" fill="url(#gLight)"/>
<circle cx="471.1" cy="184.8" r="4.2" fill="url(#gLight)"/>
<circle cx="486.9" cy="184.1" r="4.2" fill="url(#gLight)"/>
<circle cx="480.3" cy="185.3" r="4.2" fill="url(#gLight)"/>
<circle cx="464.8" cy="192.3" r="4.2" fill="url(#gLight)"/>
<circle cx="475.5" cy="193" r="4.2" fill="url(#gLight)"/>
<circle cx="488.4" cy="193" r="4.2" fill="url(#gLight)"/>
<text x="445.6" y="225.8" font-size="28.5" fill="#111" textLength="64.3" lengthAdjust="spacingAndGlyphs">Coke</text>
<line x1="523.2" y1="215.4" x2="611.6" y2="215.4" stroke="#44546a" stroke-width="4"/>
<path d="M620.6 215.4L603.1 208.4L608.1 215.4L603.1 222.4Z" fill="#44546a"/>
<text x="594" y="86.3" font-size="28.4" fill="#111" textLength="165.5" lengthAdjust="spacingAndGlyphs">Blast furnace</text>
<path d="M651 124L709 124L738.5 243.7L722 285H638L621.5 243.7Z" fill="#f7d9da"/>
<path d="M653.5 126L706.5 126L734.2 243.7L625.8 243.7Z" fill="url(#gFurn)" stroke="#2f5597" stroke-width="1.8" stroke-linejoin="round"/>
<path d="M625.8 243.7L734.2 243.7L721.6 284H638.4Z" fill="#f9eebe" stroke="#2f5597" stroke-width="1.8" stroke-linejoin="round"/>
<ellipse cx="680" cy="243.2" rx="53.6" ry="11" fill="#f05a28"/>
<path d="M628 243.6H732" stroke="#d3461c" stroke-width="1.4" fill="none"/>
<rect x="673.6" y="95.6" width="12.8" height="15" rx="1.5" fill="#44546a" stroke="#2f5597" stroke-width="1"/>
<path d="M663.5 108.8H696.5L707.4 117.2V125H652.6V117.2Z" fill="#44546a" stroke="#2f5597" stroke-width="3.4" stroke-linejoin="round"/>
<circle cx="683.7" cy="137.5" r="4.1" fill="url(#gLight)"/>
<circle cx="673" cy="144" r="4.1" fill="url(#gLight)"/>
<circle cx="681.7" cy="158" r="4.1" fill="url(#gLight)"/>
<circle cx="674.7" cy="170.2" r="4.1" fill="url(#gLight)"/>
<circle cx="687" cy="185.7" r="4.1" fill="url(#gLight)"/>
<circle cx="675.7" cy="208.5" r="4.1" fill="url(#gLight)"/>
<circle cx="681.5" cy="218.2" r="4.1" fill="url(#gLight)"/>
<circle cx="674.5" cy="231.7" r="4.1" fill="url(#gLight)"/>
<circle cx="687" cy="233.2" r="4.1" fill="url(#gLight)"/>
<circle cx="659.5" cy="237.5" r="4.1" fill="url(#gLight)"/>
<circle cx="639.5" cy="242" r="4.1" fill="url(#gLight)"/>
<circle cx="685" cy="243" r="4.1" fill="url(#gLight)"/>
<circle cx="703.7" cy="241.2" r="4.1" fill="url(#gLight)"/>
<circle cx="716" cy="243" r="4.1" fill="url(#gLight)"/>
<rect x="638.1" y="284.6" width="83.8" height="32.3" rx="2" fill="#fff" stroke="#2f5597" stroke-width="4.2"/>
<text x="478.6" y="290" font-size="28.5" fill="#111" textLength="98.3" lengthAdjust="spacingAndGlyphs">Iron ore</text>
<line x1="593" y1="282.7" x2="621.6" y2="282.7" stroke="#44546a" stroke-width="4"/>
<path d="M630.6 282.7L613.1 275.7L618.1 282.7L613.1 289.7Z" fill="#44546a"/>
<line x1="729.2" y1="215.4" x2="808.4" y2="215.4" stroke="#44546a" stroke-width="4"/>
<path d="M679.8 329.6 L679.8 335.1 C679.8 341.1 693.9 340.4 699.9 343.6 C701.4 347.88 657.9 343.83 659.4 348.1 C657.9 352.38 701.4 348.33 699.9 352.6 C701.4 356.88 657.9 352.93 659.4 357.2 C657.9 361.47 701.4 357.43 699.9 361.7 C701.4 365.97 657.9 362.03 659.4 366.3 C657.9 370.57 701.4 366.53 699.9 370.8 C701.4 375.07 657.9 371.12 659.4 375.4 C657.9 379.67 701.4 375.62 699.9 379.9 C701.4 384.17 657.9 380.53 659.4 384.8 C663.4 388.4 679.8 385.8 679.8 395 L679.8 415.1" fill="none" stroke="#4472c4" stroke-width="2.5" stroke-linecap="butt"/>
<path d="M679.8 421.1L674.5 408.6L679.8 411.6L685.1 408.6Z" fill="#4472c4"/>
<text x="712.5" y="357" font-size="24.8" fill="#1cadee" textLength="84.8" lengthAdjust="spacingAndGlyphs">26% CO</text>
<text x="712.5" y="384.9" font-size="24.8" fill="#ed7d31" textLength="84.6" lengthAdjust="spacingAndGlyphs">24% CO</text>
<text x="797.4" y="392.9" font-size="15.8" fill="#ed7d31">2</text>
<text x="712.5" y="412.8" font-size="24.8" fill="#111" textLength="52.5" lengthAdjust="spacingAndGlyphs">4% H</text>
<text x="765.5" y="421" font-size="15.8" fill="#111">2</text>
<rect x="582.5" y="431.6" width="193.7" height="59.9" rx="9" fill="#fff2cc"/>
<text x="679.35" y="470" font-size="28.6" fill="#111" text-anchor="middle" textLength="51.5" lengthAdjust="spacingAndGlyphs">BFG</text>
<g fill="#5a5a5a" opacity="0.62" filter="url(#fSh)" transform="translate(2.8 3.2)">
<path d="M838.9 156.2 C840.4 164.2 851.2 171.6 851.2 179.6 A11.9 11.9 0 1 1 827.4 179.6 C827.4 171.6 837.4 164.2 838.9 156.2Z"/>
<path d="M881.6 156.2 C883.1 164.2 895 171.6 895 179.6 A11.9 11.9 0 1 1 871.2 179.6 C871.2 171.6 880.1 164.2 881.6 156.2Z"/>
<path d="M859.9 146.5 C861.4 154.5 872.9 162.3 872.9 170.3 A11.9 11.9 0 1 1 849.1 170.3 C849.1 162.3 858.4 154.5 859.9 146.5Z"/>
</g>
<g fill="#ee4310">
<path d="M838.9 156.2 C840.4 164.2 851.2 171.6 851.2 179.6 A11.9 11.9 0 1 1 827.4 179.6 C827.4 171.6 837.4 164.2 838.9 156.2Z"/>
<path d="M881.6 156.2 C883.1 164.2 895 171.6 895 179.6 A11.9 11.9 0 1 1 871.2 179.6 C871.2 171.6 880.1 164.2 881.6 156.2Z"/>
<path d="M859.9 146.5 C861.4 154.5 872.9 162.3 872.9 170.3 A11.9 11.9 0 1 1 849.1 170.3 C849.1 162.3 858.4 154.5 859.9 146.5Z"/>
</g>
<text x="823.6" y="225.4" font-size="28.5" fill="#111" textLength="95.5" lengthAdjust="spacingAndGlyphs">Pig iron</text>
<line x1="933.4" y1="215.3" x2="1010.8" y2="215.3" stroke="#44546a" stroke-width="4"/>
<path d="M1019.8 215.3L1002.3 208.3L1007.3 215.3L1002.3 222.3Z" fill="#44546a"/>
<text x="1041" y="85.8" font-size="28.4" fill="#111" textLength="126" lengthAdjust="spacingAndGlyphs">Converter</text>
<rect x="1020.3" y="241.3" width="173.8" height="19.8" rx="9.9" fill="#375623" stroke="#2f5597" stroke-width="1.2"/>
<rect x="1078.6" y="266" width="57.2" height="34" rx="3.5" fill="#375623" stroke="#2f5597" stroke-width="1.2"/>
<path d="M1032.6 141.6H1044.3V236.4H1066V247.4H1032.6Z" fill="#a9d18e" stroke="#375623" stroke-width="1.5"/>
<path d="M1181.2 141.6H1169.5V236.4H1148V247.4H1181.2Z" fill="#a9d18e" stroke="#375623" stroke-width="1.5"/>
<circle cx="1107" cy="229.8" r="46.4" fill="#fff"/>
<path d="M1055 241.5L1160 243.9V290H1055Z" fill="#ee4310" stroke="#2f5597" stroke-width="1.2" clip-path="url(#cpMelt)"/>
<circle cx="1107" cy="229.8" r="45.8" fill="none" stroke="#2f5597" stroke-width="1" clip-path="url(#cpMeltB)"/>
<path d="M1079.95 182.37 A54.6 54.6 0 1 0 1134.05 182.37 L1129.99 189.5 A46.4 46.4 0 1 1 1084.01 189.5Z" fill="#a9d18e" stroke="#375623" stroke-width="1.5"/>
<path d="M1098.2 126.5A8.7 3.6 0 0 1 1115.6 126.5V204.8A8.7 3.9 0 0 1 1098.2 204.8Z" fill="#c5e0b4" stroke="#4b7a2e" stroke-width="1.4"/>
<ellipse cx="1106.9" cy="204.8" rx="8.7" ry="3.9" fill="#d5e8c8" stroke="#4b7a2e" stroke-width="1.4"/>
<line x1="1181.4" y1="215.4" x2="1301.2" y2="215.4" stroke="#44546a" stroke-width="4"/>
<path d="M1310.2 215.4L1292.7 208.4L1297.7 215.4L1292.7 222.4Z" fill="#44546a"/>
<path d="M1107.5 328.8 L1107.5 334.5 C1107.5 340.5 1122.1 339.8 1128.1 343 C1129.6 347.37 1085 343.23 1086.5 347.6 C1085 351.97 1129.6 347.73 1128.1 352.1 C1129.6 356.47 1085 352.33 1086.5 356.7 C1085 361.07 1129.6 356.83 1128.1 361.2 C1129.6 365.57 1085 361.73 1086.5 366.1 C1085 370.47 1129.6 366.03 1128.1 370.4 C1129.6 374.77 1085 370.93 1086.5 375.3 C1085 379.67 1129.6 375.13 1128.1 379.5 C1129.6 383.87 1085 380.03 1086.5 384.4 C1090.5 388 1107.5 385.4 1107.5 394.5 L1107.5 414.9" fill="none" stroke="#4472c4" stroke-width="2.5" stroke-linecap="butt"/>
<path d="M1107.5 420.9L1102.2 408.4L1107.5 411.4L1112.8 408.4Z" fill="#4472c4"/>
<text x="1137.8" y="353.4" font-size="24.8" fill="#1cadee" textLength="85.7" lengthAdjust="spacingAndGlyphs">49% CO</text>
<text x="1137.8" y="382.4" font-size="24.8" fill="#ed7d31" textLength="81.5" lengthAdjust="spacingAndGlyphs">19% CO</text>
<text x="1219.6" y="390.4" font-size="15.8" fill="#ed7d31">2</text>
<text x="1137.8" y="411" font-size="24.8" fill="#111" textLength="47" lengthAdjust="spacingAndGlyphs">1% H</text>
<text x="1185.3" y="419.2" font-size="15.8" fill="#111">2</text>
<rect x="1012.1" y="431.6" width="193.4" height="60" rx="9" fill="#fff2cc"/>
<text x="1108.8" y="470.2" font-size="28.6" fill="#111" text-anchor="middle" textLength="52.5" lengthAdjust="spacingAndGlyphs">LDG</text>
<path d="M1322 160L1333 150H1398V182L1386 194H1322Z" fill="#808080" opacity="0.6" filter="url(#fSh2)"/>
<path d="M1380.8 182.4L1393 170.8L1393 177.8L1380.8 189.4Z" fill="#3a3a3a" stroke="#dedede" stroke-width="1.4" stroke-linejoin="round"/>
<rect x="1317.6" y="182.4" width="63.2" height="7" fill="#545454" stroke="#dedede" stroke-width="1.4"/>
<path d="M1380.8 174.3L1393 162.7L1393 169L1380.8 180.6Z" fill="#3a3a3a" stroke="#dedede" stroke-width="1.4" stroke-linejoin="round"/>
<rect x="1317.6" y="174.3" width="63.2" height="6.3" fill="#545454" stroke="#dedede" stroke-width="1.4"/>
<path d="M1380.8 166.2L1393 154.6L1393 160.7L1380.8 172.3Z" fill="#3a3a3a" stroke="#dedede" stroke-width="1.4" stroke-linejoin="round"/>
<rect x="1317.6" y="166.2" width="63.2" height="6.1" fill="#545454" stroke="#dedede" stroke-width="1.4"/>
<path d="M1380.8 158L1393 146.4L1393 152.6L1380.8 164.2Z" fill="#3a3a3a" stroke="#dedede" stroke-width="1.4" stroke-linejoin="round"/>
<rect x="1317.6" y="158" width="63.2" height="6.2" fill="#545454" stroke="#dedede" stroke-width="1.4"/>
<path d="M1317.6 158L1329.8 146.4L1393 146.4L1380.8 158Z" fill="#7a7a7a" stroke="#dedede" stroke-width="1.4" stroke-linejoin="round"/>
<text x="1322.8" y="225.4" font-size="28.5" fill="#111" textLength="63.6" lengthAdjust="spacingAndGlyphs">Steel</text>
<path d="M1646.7 150.6H1679.1A4.9 9.2 0 0 1 1679.1 169H1646.7A4.9 9.2 0 0 1 1646.7 150.6Z" fill="url(#pLog)" stroke="#2f5597" stroke-width="1.7"/>
<ellipse cx="1646.7" cy="159.8" rx="4.9" ry="9.2" fill="url(#pLogE)" stroke="#2f5597" stroke-width="1.7"/>
<path d="M1666.7 155.1H1699.9A4.9 9.2 0 0 1 1699.9 173.5H1666.7A4.9 9.2 0 0 1 1666.7 155.1Z" fill="url(#pLog)" stroke="#2f5597" stroke-width="1.7"/>
<ellipse cx="1666.7" cy="164.3" rx="4.9" ry="9.2" fill="url(#pLogE)" stroke="#2f5597" stroke-width="1.7"/>
<path d="M1640 169.8H1673.1A4.9 9.2 0 0 1 1673.1 188.2H1640A4.9 9.2 0 0 1 1640 169.8Z" fill="url(#pLog)" stroke="#2f5597" stroke-width="1.7"/>
<ellipse cx="1640" cy="179" rx="4.9" ry="9.2" fill="url(#pLogE)" stroke="#2f5597" stroke-width="1.7"/>
<path d="M1654.4 173.7H1687.1A4.9 9.2 0 0 1 1687.1 192.1H1654.4A4.9 9.2 0 0 1 1654.4 173.7Z" fill="url(#pLog)" stroke="#2f5597" stroke-width="1.7"/>
<ellipse cx="1654.4" cy="182.9" rx="4.9" ry="9.2" fill="url(#pLogE)" stroke="#2f5597" stroke-width="1.7"/>
<path d="M1673.4 175.1H1705.8A4.9 9.2 0 0 1 1705.8 193.5H1673.4A4.9 9.2 0 0 1 1673.4 175.1Z" fill="url(#pLog)" stroke="#2f5597" stroke-width="1.7"/>
<ellipse cx="1673.4" cy="184.3" rx="4.9" ry="9.2" fill="url(#pLogE)" stroke="#2f5597" stroke-width="1.7"/>
<text x="1642.4" y="227.5" font-size="28.5" fill="#111" textLength="47.6" lengthAdjust="spacingAndGlyphs">SRF</text>
<text x="1551" y="256" font-size="25" fill="#111" textLength="229.2" lengthAdjust="spacingAndGlyphs">(solid recovered fuel)</text>
<line x1="1725.2" y1="215.7" x2="1829.6" y2="215.7" stroke="#44546a" stroke-width="4"/>
<path d="M1838.6 215.7L1821.1 208.7L1826.1 215.7L1821.1 222.7Z" fill="#44546a"/>
<text x="1849" y="227.5" font-size="28.5" fill="#111" textLength="149" lengthAdjust="spacingAndGlyphs">Gasification</text>
<g transform="translate(1880 100) scale(0.11876)">
<path fill="#f04a32" d="M412,108 C385,170 400,230 425,270 C445,300 455,330 452,365 C475,340 490,320 488,288 C500,330 490,390 455,445 C480,430 500,410 540,405 C505,440 505,490 535,555 C555,550 565,540 570,520 C595,590 590,680 545,750 C510,800 450,822 400,820 C330,818 270,770 240,690 C220,630 235,570 212,505 C240,520 255,550 258,585 C262,540 255,480 240,430 C262,450 270,470 275,490 C270,430 300,390 318,340 C325,305 310,270 285,245 C330,265 355,305 372,352 C395,330 400,300 395,250 C385,200 395,150 412,108 Z"/>
<path fill="#ff8c1a" d="M245,445 C262,480 282,525 290,560 C285,500 300,455 328,415 C335,445 345,470 365,490 C380,450 418,405 430,340 C442,400 430,460 410,510 C440,490 465,465 475,445 C487,500 478,540 465,580 C492,560 500,510 510,465 C508,510 525,545 540,590 C548,580 553,570 556,560 C565,610 560,680 520,740 C492,785 450,808 400,808 C345,806 292,765 265,700 C245,640 262,565 245,445 Z"/>
<path fill="#ffe135" d="M318,510 C350,540 385,580 400,645 C440,630 480,600 495,548 C505,610 495,670 470,715 C495,705 515,690 530,678 C520,740 470,810 400,812 C340,812 295,770 285,700 C278,650 310,590 318,510 Z"/>
</g>
<line x1="1787.5" y1="231" x2="1787.5" y2="334" stroke="#4472c4" stroke-width="2.4"/>
<path d="M1787.5 333.5 L1787.5 335.8 C1787.5 341.8 1802 341.1 1808 344.3 C1809.5 349.05 1765.9 344.55 1767.4 349.3 C1765.9 354.05 1809.5 349.25 1808 354 C1809.5 358.75 1765.9 354.05 1767.4 358.8 C1765.9 363.55 1809.5 358.95 1808 363.7 C1809.5 368.45 1765.9 363.95 1767.4 368.7 C1765.9 373.45 1809.5 368.65 1808 373.4 C1809.5 378.15 1765.9 373.45 1767.4 378.2 C1765.9 382.95 1809.5 377.75 1808 382.5 C1809.5 387.25 1765.9 382.75 1767.4 387.5 C1771.4 391.1 1787.5 388.5 1787.5 397.5 L1787.5 417.2" fill="none" stroke="#4472c4" stroke-width="2.5" stroke-linecap="butt"/>
<path d="M1787.5 423.2L1782.2 410.7L1787.5 413.7L1792.8 410.7Z" fill="#4472c4"/>
<text x="1814.2" y="357.2" font-size="24.8" fill="#1cadee" textLength="69.5" lengthAdjust="spacingAndGlyphs">7% CO</text>
<text x="1814.2" y="385.1" font-size="24.8" fill="#ed7d31" textLength="81.2" lengthAdjust="spacingAndGlyphs">41% CO</text>
<text x="1895.7" y="393.1" font-size="15.8" fill="#ed7d31">2</text>
<text x="1814.2" y="413.4" font-size="24.8" fill="#111" textLength="52.2" lengthAdjust="spacingAndGlyphs">2% H</text>
<text x="1866.9" y="421.6" font-size="15.8" fill="#111">2</text>
<rect x="1641.2" y="433.9" width="291.6" height="60.5" rx="9" fill="#fff2cc"/>
<text x="1787" y="472.8" font-size="28.6" fill="#111" text-anchor="middle" textLength="204.8" lengthAdjust="spacingAndGlyphs">SRF-derived gas</text>
</svg>
</body></html>
